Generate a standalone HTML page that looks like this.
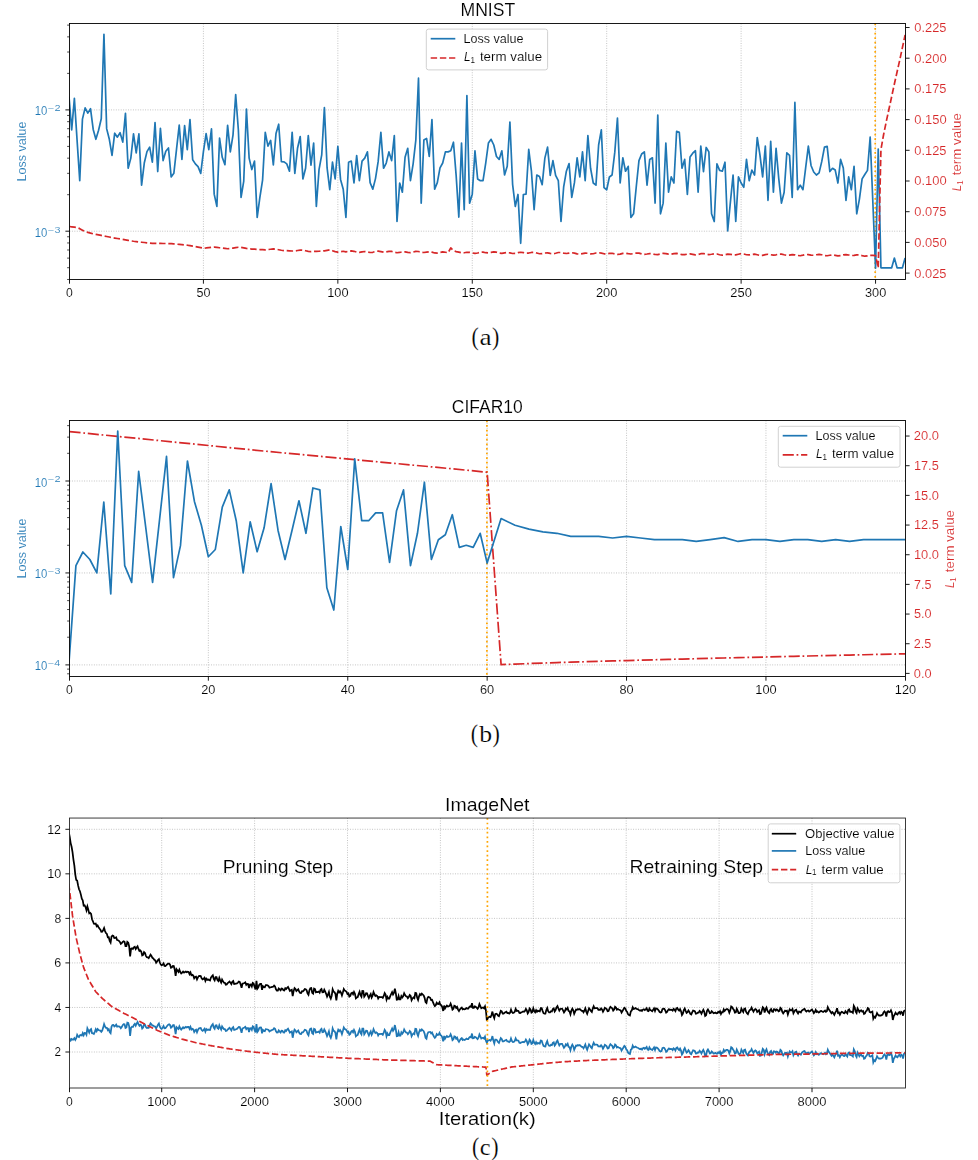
<!DOCTYPE html>
<html><head><meta charset="utf-8"><title>Loss curves</title>
<style>html,body{margin:0;padding:0;background:#fff}body{width:978px;height:1160px;overflow:hidden;font-family:"Liberation Sans",sans-serif}</style></head>
<body>
<svg width="978" height="1160" viewBox="0 0 978 1160" style="display:block">
<rect width="978" height="1160" fill="#fff"/>
<defs>
<clipPath id="c1"><rect x="69.5" y="23.5" width="836" height="256"/></clipPath>
<clipPath id="c2"><rect x="69.5" y="420.5" width="836" height="256"/></clipPath>
<clipPath id="c3"><rect x="69.5" y="818.05" width="836" height="269.95"/></clipPath>
</defs>
<line x1="203.42" y1="23.5" x2="203.42" y2="279.5" stroke="#b9b9b9" stroke-width="0.9" stroke-dasharray="0.92 1.52"/>
<line x1="337.85" y1="23.5" x2="337.85" y2="279.5" stroke="#b9b9b9" stroke-width="0.9" stroke-dasharray="0.92 1.52"/>
<line x1="472.27" y1="23.5" x2="472.27" y2="279.5" stroke="#b9b9b9" stroke-width="0.9" stroke-dasharray="0.92 1.52"/>
<line x1="606.7" y1="23.5" x2="606.7" y2="279.5" stroke="#b9b9b9" stroke-width="0.9" stroke-dasharray="0.92 1.52"/>
<line x1="741.12" y1="23.5" x2="741.12" y2="279.5" stroke="#b9b9b9" stroke-width="0.9" stroke-dasharray="0.92 1.52"/>
<line x1="875.55" y1="23.5" x2="875.55" y2="279.5" stroke="#b9b9b9" stroke-width="0.9" stroke-dasharray="0.92 1.52"/>
<line x1="69.5" y1="109.9" x2="905.5" y2="109.9" stroke="#b9b9b9" stroke-width="0.9" stroke-dasharray="0.92 1.52"/>
<line x1="69.5" y1="231.2" x2="905.5" y2="231.2" stroke="#b9b9b9" stroke-width="0.9" stroke-dasharray="0.92 1.52"/>
<line x1="875.2" y1="23.5" x2="875.2" y2="279.5" stroke="#ffa500" stroke-width="1.7" stroke-dasharray="1.73 2.86"/>
<path d="M69,96.69 L71.69,129.94 L74.38,98.33 L77.07,140.1 L79.75,180.72 L82.44,119.13 L85.13,107.83 L87.82,113.07 L90.51,108.65 L93.2,129.45 L95.88,139.28 L98.57,130.27 L101.26,118.81 L103.95,34.29 L106.64,128.63 L109.33,139.28 L112.02,155.33 L114.7,133.22 L117.39,137.15 L120.08,132.73 L122.77,142.07 L125.46,113.4 L128.15,168.27 L130.84,158.12 L133.52,133.88 L136.21,152.88 L138.9,133.88 L141.59,185.15 L144.28,163.03 L146.97,151.57 L149.66,147.14 L152.34,162.21 L155.03,122.57 L157.72,171.55 L160.41,128.31 L163.1,160.58 L165.79,151.24 L168.47,147.96 L171.16,176.96 L173.85,173.35 L176.54,149.11 L179.23,125.03 L181.92,159.43 L184.61,125.69 L187.29,149.6 L189.98,119.63 L192.67,159.76 L195.36,163.85 L198.05,166.64 L200.74,173.35 L203.42,151.57 L206.11,133.55 L208.8,149.6 L211.49,128.96 L214.18,194.15 L216.87,206.44 L219.56,138.13 L222.24,157.3 L224.93,164.67 L227.62,125.36 L230.31,151.89 L233,135.19 L235.69,94.56 L238.38,130.27 L241.06,197.43 L243.75,181.05 L246.44,108.98 L249.13,158.12 L251.82,169.58 L254.51,161.07 L257.19,217.41 L259.88,197.43 L262.57,180.23 L265.26,132.4 L267.95,146.16 L270.64,140.43 L273.33,165 L276.01,133.55 L278.7,124.21 L281.39,161.72 L284.08,161.89 L286.77,163.85 L289.46,171.22 L292.15,132.4 L294.83,173.35 L297.52,148.29 L300.21,136.5 L302.9,178.92 L305.59,168.27 L308.28,135.51 L310.97,165.16 L313.65,143.05 L316.34,206.44 L319.03,169.58 L321.72,154.84 L324.41,107.67 L327.1,167.95 L329.78,189.73 L332.47,162.21 L335.16,178.92 L337.85,146.32 L340.54,179.41 L343.23,189.24 L345.92,217.41 L348.6,162.21 L351.29,161.07 L353.98,183.02 L356.67,155.66 L359.36,180.72 L362.05,161.07 L364.74,158.12 L367.42,151.89 L370.11,182.69 L372.8,189.24 L375.49,178.59 L378.18,161.39 L380.87,132.4 L383.55,168.27 L386.24,163.03 L388.93,151.89 L391.62,160.58 L394.31,135.51 L397,221.51 L399.69,183.02 L402.37,192.19 L405.06,157.3 L407.75,148.29 L410.44,180.72 L413.13,163.85 L415.82,140.1 L418.5,78.18 L421.19,203.16 L423.88,140.1 L426.57,138.46 L429.26,156.48 L431.95,119.63 L434.64,189.24 L437.32,182.69 L440.01,167.95 L442.7,163.03 L445.39,151.89 L448.08,151.89 L450.77,150.75 L453.46,142.23 L456.14,175.32 L458.83,217.09 L461.52,143.05 L464.21,209.72 L466.9,95.55 L469.59,203.16 L472.27,194.15 L474.96,150.75 L477.65,179.08 L480.34,180.72 L483.03,180.72 L485.72,163.03 L488.41,143.05 L491.09,139.28 L493.78,145.01 L496.47,156.48 L499.16,159.43 L501.85,150.75 L504.54,174.99 L507.23,166.31 L509.91,122.08 L512.6,184.33 L515.29,206.44 L517.98,194.48 L520.67,243.29 L523.36,194.48 L526.04,194.15 L528.73,149.44 L531.42,171.22 L534.11,209.72 L536.8,174.99 L539.49,176.46 L542.18,184.65 L544.86,158.12 L547.55,147.14 L550.24,175.32 L552.93,160.58 L555.62,175.32 L558.31,180.72 L561,221.51 L563.68,186.78 L566.37,171.22 L569.06,163.52 L571.75,197.43 L574.44,182.69 L577.13,157.79 L579.82,176.96 L582.5,151.89 L585.19,180.72 L587.88,135.51 L590.57,168.27 L593.26,183.02 L595.95,185.15 L598.63,145.01 L601.32,129.78 L604.01,187.6 L606.7,189.73 L609.39,176.96 L612.08,174.99 L614.77,152.39 L617.45,117.99 L620.14,183.02 L622.83,157.79 L625.52,171.22 L628.21,166.31 L630.9,217.41 L633.58,213.81 L636.27,186.78 L638.96,160.58 L641.65,154.02 L644.34,151.89 L647.03,185.15 L649.72,159.43 L652.4,157.79 L655.09,203.16 L657.78,115.04 L660.47,213.81 L663.16,203.16 L665.85,143.05 L668.54,192.19 L671.22,176.96 L673.91,183.02 L676.6,131.42 L679.29,132.4 L681.98,168.27 L684.67,159.43 L687.36,194.48 L690.04,156.97 L692.73,153.2 L695.42,150.75 L698.11,192.19 L700.8,146.16 L703.49,171.55 L706.17,147.47 L708.86,151.89 L711.55,213.81 L714.24,221.51 L716.93,163.85 L719.62,170.4 L722.31,171.22 L724.99,162.21 L727.68,231.01 L730.37,202.34 L733.06,174.99 L735.75,221.51 L738.44,176.96 L741.12,183.02 L743.81,187.27 L746.5,159.43 L749.19,180.72 L751.88,170.08 L754.57,174.99 L757.26,137.64 L759.94,154.84 L762.63,176.96 L765.32,146.16 L768.01,200.38 L770.7,141.25 L773.39,192.19 L776.08,148.29 L778.76,178.59 L781.45,203.16 L784.14,192.19 L786.83,152.88 L789.52,155.33 L792.21,197.43 L794.89,102.43 L797.58,189.73 L800.27,185.15 L802.96,189.73 L805.65,167.95 L808.34,146.16 L811.03,165.49 L813.71,172.04 L816.4,174.99 L819.09,172.86 L821.78,161.39 L824.47,147.14 L827.16,146.32 L829.85,171.55 L832.53,168.27 L835.22,170.08 L837.91,183.02 L840.6,159.43 L843.29,167.95 L845.98,200.38 L848.66,176.96 L851.35,189.73 L854.04,166.31 L856.73,213.81 L859.42,199.07 L862.11,178.92 L864.8,174.5 L867.48,170.4 L870.17,137.1 L872.86,202.5 L875.55,268.2 L878.24,149.1 L880.93,267.8 L883.62,267.8 L886.3,267.8 L888.99,267.8 L891.68,267.8 L894.37,258 L897.06,267.8 L899.75,267.8 L902.43,267.8 L905.12,258" fill="none" stroke="#1f77b4" stroke-width="1.7" stroke-linejoin="round" clip-path="url(#c1)"/>
<path d="M69.5,226.53 L71.69,226.81 L74.38,227.15 L77.07,227.49 L79.75,228.64 L82.44,230.16 L85.13,231.64 L87.82,232.35 L90.51,233.07 L93.2,233.79 L95.88,234.35 L98.57,234.89 L101.26,235.42 L103.95,235.96 L106.64,236.49 L109.33,237.03 L112.02,237.56 L114.7,238.07 L117.39,238.53 L120.08,238.98 L122.77,239.44 L125.46,239.9 L128.15,240.36 L130.84,240.81 L133.52,241.27 L136.21,241.59 L138.9,241.9 L141.59,242.22 L144.28,242.53 L146.97,242.84 L149.66,243.16 L152.34,243.32 L155.03,243.36 L157.72,243.4 L160.41,243.44 L163.1,243.48 L165.79,243.52 L168.47,243.56 L171.16,243.63 L173.85,243.89 L176.54,244.16 L179.23,244.42 L181.92,244.69 L184.61,244.95 L187.29,245.22 L189.98,245.65 L192.67,246.14 L195.36,246.64 L198.05,247.14 L200.74,247.63 L203.42,248.13 L206.11,247.95 L208.8,247.66 L211.49,247.36 L214.18,247.13 L216.87,247.45 L219.56,247.77 L222.24,248.09 L224.93,248.41 L227.62,248.73 L230.31,248.49 L233,248.08 L235.69,247.68 L238.38,247.28 L241.06,247.39 L243.75,247.92 L246.44,248.45 L249.13,248.86 L251.82,249.03 L254.51,249.2 L257.19,249.38 L259.88,249.55 L262.57,249.72 L265.26,249.89 L267.95,249.57 L270.64,249.23 L273.33,248.89 L276.01,249.2 L278.7,249.73 L281.39,250.26 L284.08,250.58 L286.77,250.72 L289.46,250.86 L292.15,251 L294.83,250.96 L297.52,250.51 L300.21,250.06 L302.9,250.24 L305.59,250.77 L308.28,251.3 L310.97,251.55 L313.65,251.45 L316.34,251.35 L319.03,251.24 L321.72,251.14 L324.41,250.81 L327.1,250.36 L329.78,249.9 L332.47,250.75 L335.16,251.61 L337.85,252.07 L340.54,251.65 L343.23,251.24 L345.92,251.84 L348.6,251.28 L351.29,250.87 L353.98,251.31 L356.67,252.12 L359.36,252.31 L362.05,251.8 L364.74,251.5 L367.42,251.94 L370.11,252.49 L372.8,252.28 L375.49,251.49 L378.18,251.14 L380.87,251.6 L383.55,252.12 L386.24,251.93 L388.93,251.38 L391.62,251.42 L394.31,252.18 L397,252.75 L399.69,252.47 L402.37,251.87 L405.06,251.87 L407.75,252.44 L410.44,252.63 L413.13,252.03 L415.82,251.37 L418.5,251.52 L421.19,252.22 L423.88,252.48 L426.57,252.05 L429.26,251.73 L431.95,252.19 L434.64,252.95 L437.32,253.04 L440.01,252.4 L442.7,251.96 L445.39,252.28 L448.08,252.76 L450.77,247.9 L453.46,250.6 L456.14,251.6 L458.83,252.2 L461.52,252.85 L464.21,252.76 L466.9,252.25 L469.59,252.28 L472.27,252.96 L474.96,253.4 L477.65,252.97 L480.34,252.25 L483.03,252.17 L485.72,252.71 L488.41,252.94 L491.09,252.44 L493.78,251.92 L496.47,252.2 L499.16,253.02 L501.85,253.35 L504.54,252.92 L507.23,252.54 L509.91,252.89 L512.6,253.51 L515.29,253.46 L517.98,252.71 L520.67,252.23 L523.36,252.57 L526.04,253.13 L528.73,253.04 L531.42,252.47 L534.11,252.36 L536.8,253.05 L539.49,253.73 L542.18,253.6 L544.86,252.99 L547.55,252.89 L550.24,253.43 L552.93,253.75 L555.62,253.25 L558.31,252.52 L561,252.5 L563.68,253.15 L566.37,253.52 L569.06,253.15 L571.75,252.74 L574.44,253.08 L577.13,253.88 L579.82,254.13 L582.5,253.58 L585.19,253.06 L587.88,253.28 L590.57,253.81 L593.26,253.73 L595.95,253.02 L598.63,252.62 L601.32,253.1 L604.01,253.8 L606.7,253.83 L609.39,253.33 L612.08,253.23 L614.77,253.87 L617.45,254.44 L620.14,254.17 L622.83,253.43 L625.52,253.21 L628.21,253.7 L630.9,254.03 L633.58,253.61 L636.27,253 L638.96,253.12 L641.65,253.9 L644.34,254.36 L647.03,254.03 L649.72,253.58 L652.4,253.83 L655.09,254.5 L657.78,254.62 L660.47,253.94 L663.16,253.34 L665.85,253.55 L668.54,254.13 L671.22,254.16 L673.91,253.58 L676.6,253.33 L679.29,253.91 L681.98,254.67 L684.67,254.7 L687.36,254.12 L690.04,253.91 L692.73,254.4 L695.42,254.84 L698.11,254.47 L700.8,253.7 L703.49,253.51 L706.17,254.08 L708.86,254.55 L711.55,254.26 L714.24,253.77 L716.93,253.97 L719.62,254.77 L722.31,255.19 L724.99,254.75 L727.68,254.17 L730.37,254.28 L733.06,254.84 L735.75,254.89 L738.44,254.22 L741.12,253.69 L743.81,254.01 L746.5,254.74 L749.19,254.89 L751.88,254.42 L754.57,254.2 L757.26,254.76 L759.94,255.44 L762.63,255.34 L765.32,254.62 L768.01,254.28 L770.7,254.69 L773.39,255.11 L776.08,254.79 L778.76,254.11 L781.45,254.06 L784.14,254.78 L786.83,255.35 L789.52,255.13 L792.21,254.64 L794.89,254.78 L797.58,255.46 L800.27,255.74 L802.96,255.17 L805.65,254.49 L808.34,254.55 L811.03,255.13 L813.71,255.26 L816.4,254.72 L819.09,254.33 L821.78,254.78 L824.47,255.59 L827.16,255.77 L829.85,255.25 L832.53,254.94 L835.22,255.37 L837.91,255.9 L840.6,255.68 L843.29,254.9 L845.98,254.56 L848.66,255.03 L851.35,255.56 L854.04,255.37 L856.73,254.83 L859.42,254.89 L862.11,255.65 L864.8,256.21 L867.48,255.91 L870.17,255.3 L872.86,255.29 L875.55,255.6 L878.24,267.8 L880.93,149.6 L883.62,134.5 L886.3,121.5 L888.99,109 L891.68,96.5 L894.37,84 L897.06,72 L899.75,60 L902.43,47.5 L905.12,35" fill="none" stroke="#d62728" stroke-width="1.7" stroke-linejoin="round" stroke-dasharray="6.41 2.77" clip-path="url(#c1)"/>
<rect x="69.5" y="23.5" width="836" height="256" fill="none" stroke="#000" stroke-width="0.9"/>
<line x1="69.5" y1="279.5" x2="69.5" y2="283.7" stroke="#000" stroke-width="0.9"/>
<line x1="203.42" y1="279.5" x2="203.42" y2="283.7" stroke="#000" stroke-width="0.9"/>
<line x1="337.85" y1="279.5" x2="337.85" y2="283.7" stroke="#000" stroke-width="0.9"/>
<line x1="472.27" y1="279.5" x2="472.27" y2="283.7" stroke="#000" stroke-width="0.9"/>
<line x1="606.7" y1="279.5" x2="606.7" y2="283.7" stroke="#000" stroke-width="0.9"/>
<line x1="741.12" y1="279.5" x2="741.12" y2="283.7" stroke="#000" stroke-width="0.9"/>
<line x1="875.55" y1="279.5" x2="875.55" y2="283.7" stroke="#000" stroke-width="0.9"/>
<line x1="65.4" y1="109.9" x2="69.5" y2="109.9" stroke="#000" stroke-width="0.9"/>
<line x1="65.4" y1="231.2" x2="69.5" y2="231.2" stroke="#000" stroke-width="0.9"/>
<line x1="67.1" y1="279.47" x2="69.5" y2="279.47" stroke="#000" stroke-width="0.7"/>
<line x1="67.1" y1="267.71" x2="69.5" y2="267.71" stroke="#000" stroke-width="0.7"/>
<line x1="67.1" y1="258.11" x2="69.5" y2="258.11" stroke="#000" stroke-width="0.7"/>
<line x1="67.1" y1="249.99" x2="69.5" y2="249.99" stroke="#000" stroke-width="0.7"/>
<line x1="67.1" y1="242.96" x2="69.5" y2="242.96" stroke="#000" stroke-width="0.7"/>
<line x1="67.1" y1="236.75" x2="69.5" y2="236.75" stroke="#000" stroke-width="0.7"/>
<line x1="67.1" y1="194.69" x2="69.5" y2="194.69" stroke="#000" stroke-width="0.7"/>
<line x1="67.1" y1="173.33" x2="69.5" y2="173.33" stroke="#000" stroke-width="0.7"/>
<line x1="67.1" y1="158.17" x2="69.5" y2="158.17" stroke="#000" stroke-width="0.7"/>
<line x1="67.1" y1="146.41" x2="69.5" y2="146.41" stroke="#000" stroke-width="0.7"/>
<line x1="67.1" y1="136.81" x2="69.5" y2="136.81" stroke="#000" stroke-width="0.7"/>
<line x1="67.1" y1="128.69" x2="69.5" y2="128.69" stroke="#000" stroke-width="0.7"/>
<line x1="67.1" y1="121.66" x2="69.5" y2="121.66" stroke="#000" stroke-width="0.7"/>
<line x1="67.1" y1="115.45" x2="69.5" y2="115.45" stroke="#000" stroke-width="0.7"/>
<line x1="67.1" y1="73.39" x2="69.5" y2="73.39" stroke="#000" stroke-width="0.7"/>
<line x1="67.1" y1="52.03" x2="69.5" y2="52.03" stroke="#000" stroke-width="0.7"/>
<line x1="67.1" y1="36.87" x2="69.5" y2="36.87" stroke="#000" stroke-width="0.7"/>
<line x1="67.1" y1="25.11" x2="69.5" y2="25.11" stroke="#000" stroke-width="0.7"/>
<line x1="905.5" y1="273.1" x2="909.6" y2="273.1" stroke="#000" stroke-width="0.9"/>
<line x1="905.5" y1="242.4" x2="909.6" y2="242.4" stroke="#000" stroke-width="0.9"/>
<line x1="905.5" y1="211.7" x2="909.6" y2="211.7" stroke="#000" stroke-width="0.9"/>
<line x1="905.5" y1="181" x2="909.6" y2="181" stroke="#000" stroke-width="0.9"/>
<line x1="905.5" y1="150.3" x2="909.6" y2="150.3" stroke="#000" stroke-width="0.9"/>
<line x1="905.5" y1="119.6" x2="909.6" y2="119.6" stroke="#000" stroke-width="0.9"/>
<line x1="905.5" y1="88.9" x2="909.6" y2="88.9" stroke="#000" stroke-width="0.9"/>
<line x1="905.5" y1="58.2" x2="909.6" y2="58.2" stroke="#000" stroke-width="0.9"/>
<line x1="905.5" y1="27.5" x2="909.6" y2="27.5" stroke="#000" stroke-width="0.9"/>
<rect x="426.3" y="29.1" width="121.3" height="40.8" rx="2.3" ry="2.3" fill="#fff" fill-opacity="0.8" stroke="#cccccc" stroke-width="0.9"/>
<line x1="430.7" y1="38.7" x2="455.3" y2="38.7" stroke="#1f77b4" stroke-width="1.7"/>
<line x1="430.7" y1="58" x2="455.3" y2="58" stroke="#d62728" stroke-width="1.7" stroke-dasharray="6.41 2.77"/>
<text transform="translate(471.54,345.1) scale(0.8315,1)" font-family="Liberation Serif, serif" font-size="26.23" fill="#000" stroke="#fff" stroke-width="0.18">(</text>
<text transform="translate(479.41,344.97) scale(1.1954,1)" font-family="Liberation Serif, serif" font-size="22.9" fill="#000" stroke="#fff" stroke-width="0.18">a</text>
<text transform="translate(491.96,345.1) scale(0.8404,1)" font-family="Liberation Serif, serif" font-size="26.23" fill="#000" stroke="#fff" stroke-width="0.18">)</text>
<line x1="208.35" y1="420.5" x2="208.35" y2="676.5" stroke="#b9b9b9" stroke-width="0.9" stroke-dasharray="0.92 1.52"/>
<line x1="347.75" y1="420.5" x2="347.75" y2="676.5" stroke="#b9b9b9" stroke-width="0.9" stroke-dasharray="0.92 1.52"/>
<line x1="487.15" y1="420.5" x2="487.15" y2="676.5" stroke="#b9b9b9" stroke-width="0.9" stroke-dasharray="0.92 1.52"/>
<line x1="626.55" y1="420.5" x2="626.55" y2="676.5" stroke="#b9b9b9" stroke-width="0.9" stroke-dasharray="0.92 1.52"/>
<line x1="765.95" y1="420.5" x2="765.95" y2="676.5" stroke="#b9b9b9" stroke-width="0.9" stroke-dasharray="0.92 1.52"/>
<line x1="69.5" y1="481" x2="905.5" y2="481" stroke="#b9b9b9" stroke-width="0.9" stroke-dasharray="0.92 1.52"/>
<line x1="69.5" y1="572.95" x2="905.5" y2="572.95" stroke="#b9b9b9" stroke-width="0.9" stroke-dasharray="0.92 1.52"/>
<line x1="69.5" y1="664.9" x2="905.5" y2="664.9" stroke="#b9b9b9" stroke-width="0.9" stroke-dasharray="0.92 1.52"/>
<line x1="486.9" y1="420.5" x2="486.9" y2="676.5" stroke="#ffa500" stroke-width="1.7" stroke-dasharray="1.73 2.86"/>
<path d="M69.5,431.6 L265.4,451.2 L464.8,470 L487.15,472.3 L501.09,664.6 L515.03,664.11 L528.97,663.56 L542.91,663.06 L556.85,662.59 L570.79,662.15 L584.73,661.73 L598.67,661.31 L612.61,660.92 L626.55,660.53 L640.49,660.15 L654.43,659.77 L668.37,659.41 L682.31,659.05 L696.25,658.69 L710.19,658.34 L724.13,658 L738.07,657.66 L752.01,657.32 L765.95,656.99 L779.89,656.66 L793.83,656.33 L807.77,656.01 L821.71,655.69 L835.65,655.37 L849.59,655.05 L863.53,654.74 L877.47,654.43 L891.41,654.12 L905.5,653.82" fill="none" stroke="#d62728" stroke-width="1.7" stroke-linejoin="miter" stroke-dasharray="11.1 2.77 1.73 2.77" clip-path="url(#c2)"/>
<path d="M68.95,662.95 L75.92,565.67 L82.89,552 L89.86,559.51 L96.83,572.95 L103.8,502.07 L110.77,594.02 L117.74,431.09 L124.71,565.67 L131.68,582.36 L138.65,471.46 L145.62,526.5 L152.59,582.36 L159.56,519.64 L166.53,456.43 L173.5,577.6 L180.47,545.67 L187.44,461 L194.41,501.4 L201.38,525.27 L208.35,556.76 L215.32,549.48 L222.29,507.11 L229.26,489.91 L236.23,520.7 L243.2,572.95 L250.17,521.8 L257.14,551.76 L264.11,527.77 L271.08,483.68 L278.05,530.43 L285.02,559.51 L291.99,530.43 L298.96,500.74 L305.93,533.29 L312.9,487.96 L319.87,489.91 L326.84,587.77 L333.81,610.04 L340.78,526.5 L347.75,569.51 L354.72,458.88 L361.69,520.7 L368.66,520.7 L375.63,512.89 L382.6,512.89 L389.57,562.47 L396.54,510.73 L403.51,489.91 L410.48,565.67 L417.45,533.29 L424.42,482.22 L431.39,559.51 L438.36,539.69 L445.33,534.79 L452.3,514.7 L459.27,547.32 L466.24,545.27 L473.21,547.32 L480.18,533.29 L487.15,563.09 L501.09,518.6 L515.03,525.27 L528.97,529.08 L542.91,531.83 L556.85,533.29 L570.79,536.36 L584.73,536.36 L598.67,536.36 L612.61,537.99 L626.55,536.36 L640.49,537.99 L654.43,539.69 L668.37,539.69 L682.31,539.69 L696.25,541.46 L710.19,539.69 L724.13,537.66 L738.07,541.46 L752.01,539.69 L765.95,539.69 L779.89,541.46 L793.83,539.69 L807.77,539.69 L821.71,541.46 L835.65,539.69 L849.59,541.46 L863.53,539.69 L877.47,539.69 L891.41,539.69 L905.35,539.69" fill="none" stroke="#1f77b4" stroke-width="1.7" stroke-linejoin="round" clip-path="url(#c2)"/>
<rect x="69.5" y="420.5" width="836" height="256" fill="none" stroke="#000" stroke-width="0.9"/>
<line x1="69.5" y1="676.5" x2="69.5" y2="680.7" stroke="#000" stroke-width="0.9"/>
<line x1="208.35" y1="676.5" x2="208.35" y2="680.7" stroke="#000" stroke-width="0.9"/>
<line x1="347.75" y1="676.5" x2="347.75" y2="680.7" stroke="#000" stroke-width="0.9"/>
<line x1="487.15" y1="676.5" x2="487.15" y2="680.7" stroke="#000" stroke-width="0.9"/>
<line x1="626.55" y1="676.5" x2="626.55" y2="680.7" stroke="#000" stroke-width="0.9"/>
<line x1="765.95" y1="676.5" x2="765.95" y2="680.7" stroke="#000" stroke-width="0.9"/>
<line x1="905.5" y1="676.5" x2="905.5" y2="680.7" stroke="#000" stroke-width="0.9"/>
<line x1="65.4" y1="481" x2="69.5" y2="481" stroke="#000" stroke-width="0.9"/>
<line x1="65.4" y1="572.95" x2="69.5" y2="572.95" stroke="#000" stroke-width="0.9"/>
<line x1="65.4" y1="664.9" x2="69.5" y2="664.9" stroke="#000" stroke-width="0.9"/>
<line x1="67.1" y1="673.81" x2="69.5" y2="673.81" stroke="#000" stroke-width="0.7"/>
<line x1="67.1" y1="669.11" x2="69.5" y2="669.11" stroke="#000" stroke-width="0.7"/>
<line x1="67.1" y1="637.22" x2="69.5" y2="637.22" stroke="#000" stroke-width="0.7"/>
<line x1="67.1" y1="621.03" x2="69.5" y2="621.03" stroke="#000" stroke-width="0.7"/>
<line x1="67.1" y1="609.54" x2="69.5" y2="609.54" stroke="#000" stroke-width="0.7"/>
<line x1="67.1" y1="600.63" x2="69.5" y2="600.63" stroke="#000" stroke-width="0.7"/>
<line x1="67.1" y1="593.35" x2="69.5" y2="593.35" stroke="#000" stroke-width="0.7"/>
<line x1="67.1" y1="587.19" x2="69.5" y2="587.19" stroke="#000" stroke-width="0.7"/>
<line x1="67.1" y1="581.86" x2="69.5" y2="581.86" stroke="#000" stroke-width="0.7"/>
<line x1="67.1" y1="577.16" x2="69.5" y2="577.16" stroke="#000" stroke-width="0.7"/>
<line x1="67.1" y1="545.27" x2="69.5" y2="545.27" stroke="#000" stroke-width="0.7"/>
<line x1="67.1" y1="529.08" x2="69.5" y2="529.08" stroke="#000" stroke-width="0.7"/>
<line x1="67.1" y1="517.59" x2="69.5" y2="517.59" stroke="#000" stroke-width="0.7"/>
<line x1="67.1" y1="508.68" x2="69.5" y2="508.68" stroke="#000" stroke-width="0.7"/>
<line x1="67.1" y1="501.4" x2="69.5" y2="501.4" stroke="#000" stroke-width="0.7"/>
<line x1="67.1" y1="495.24" x2="69.5" y2="495.24" stroke="#000" stroke-width="0.7"/>
<line x1="67.1" y1="489.91" x2="69.5" y2="489.91" stroke="#000" stroke-width="0.7"/>
<line x1="67.1" y1="485.21" x2="69.5" y2="485.21" stroke="#000" stroke-width="0.7"/>
<line x1="67.1" y1="453.32" x2="69.5" y2="453.32" stroke="#000" stroke-width="0.7"/>
<line x1="67.1" y1="437.13" x2="69.5" y2="437.13" stroke="#000" stroke-width="0.7"/>
<line x1="67.1" y1="425.64" x2="69.5" y2="425.64" stroke="#000" stroke-width="0.7"/>
<line x1="905.5" y1="673.4" x2="909.6" y2="673.4" stroke="#000" stroke-width="0.9"/>
<line x1="905.5" y1="643.73" x2="909.6" y2="643.73" stroke="#000" stroke-width="0.9"/>
<line x1="905.5" y1="614.06" x2="909.6" y2="614.06" stroke="#000" stroke-width="0.9"/>
<line x1="905.5" y1="584.39" x2="909.6" y2="584.39" stroke="#000" stroke-width="0.9"/>
<line x1="905.5" y1="554.72" x2="909.6" y2="554.72" stroke="#000" stroke-width="0.9"/>
<line x1="905.5" y1="525.05" x2="909.6" y2="525.05" stroke="#000" stroke-width="0.9"/>
<line x1="905.5" y1="495.38" x2="909.6" y2="495.38" stroke="#000" stroke-width="0.9"/>
<line x1="905.5" y1="465.71" x2="909.6" y2="465.71" stroke="#000" stroke-width="0.9"/>
<line x1="905.5" y1="436.04" x2="909.6" y2="436.04" stroke="#000" stroke-width="0.9"/>
<rect x="778.3" y="426.3" width="121.7" height="40.9" rx="2.3" ry="2.3" fill="#fff" fill-opacity="0.8" stroke="#cccccc" stroke-width="0.9"/>
<line x1="782.7" y1="435.7" x2="807.3" y2="435.7" stroke="#1f77b4" stroke-width="1.7"/>
<line x1="782.7" y1="454.8" x2="807.3" y2="454.8" stroke="#d62728" stroke-width="1.7" stroke-dasharray="11.1 2.77 1.73 2.77"/>
<text transform="translate(470.68,742.1) scale(0.8315,1)" font-family="Liberation Serif, serif" font-size="26.23" fill="#000" stroke="#fff" stroke-width="0.18">(</text>
<text transform="translate(479.15,741.96) scale(1.0719,1)" font-family="Liberation Serif, serif" font-size="23.98" fill="#000" stroke="#fff" stroke-width="0.18">b</text>
<text transform="translate(492.42,742.1) scale(0.8404,1)" font-family="Liberation Serif, serif" font-size="26.23" fill="#000" stroke="#fff" stroke-width="0.18">)</text>
<line x1="161.7" y1="818.05" x2="161.7" y2="1088" stroke="#b9b9b9" stroke-width="0.9" stroke-dasharray="0.92 1.52"/>
<line x1="254.6" y1="818.05" x2="254.6" y2="1088" stroke="#b9b9b9" stroke-width="0.9" stroke-dasharray="0.92 1.52"/>
<line x1="347.5" y1="818.05" x2="347.5" y2="1088" stroke="#b9b9b9" stroke-width="0.9" stroke-dasharray="0.92 1.52"/>
<line x1="440.4" y1="818.05" x2="440.4" y2="1088" stroke="#b9b9b9" stroke-width="0.9" stroke-dasharray="0.92 1.52"/>
<line x1="533.3" y1="818.05" x2="533.3" y2="1088" stroke="#b9b9b9" stroke-width="0.9" stroke-dasharray="0.92 1.52"/>
<line x1="626.2" y1="818.05" x2="626.2" y2="1088" stroke="#b9b9b9" stroke-width="0.9" stroke-dasharray="0.92 1.52"/>
<line x1="719.1" y1="818.05" x2="719.1" y2="1088" stroke="#b9b9b9" stroke-width="0.9" stroke-dasharray="0.92 1.52"/>
<line x1="812" y1="818.05" x2="812" y2="1088" stroke="#b9b9b9" stroke-width="0.9" stroke-dasharray="0.92 1.52"/>
<line x1="69.5" y1="1052" x2="905.5" y2="1052" stroke="#b9b9b9" stroke-width="0.9" stroke-dasharray="0.92 1.52"/>
<line x1="69.5" y1="1007.46" x2="905.5" y2="1007.46" stroke="#b9b9b9" stroke-width="0.9" stroke-dasharray="0.92 1.52"/>
<line x1="69.5" y1="962.92" x2="905.5" y2="962.92" stroke="#b9b9b9" stroke-width="0.9" stroke-dasharray="0.92 1.52"/>
<line x1="69.5" y1="918.38" x2="905.5" y2="918.38" stroke="#b9b9b9" stroke-width="0.9" stroke-dasharray="0.92 1.52"/>
<line x1="69.5" y1="873.84" x2="905.5" y2="873.84" stroke="#b9b9b9" stroke-width="0.9" stroke-dasharray="0.92 1.52"/>
<line x1="69.5" y1="829.3" x2="905.5" y2="829.3" stroke="#b9b9b9" stroke-width="0.9" stroke-dasharray="0.92 1.52"/>
<path d="M68.8,832.13 L69.73,836.8 L70.66,843.12 L71.59,846.76 L72.52,852.2 L73.44,859.59 L74.37,865.72 L75.3,874.56 L76.23,880.05 L77.16,880.61 L78.09,885.42 L79.02,889.3 L79.95,891.19 L80.88,894.63 L81.81,898.76 L82.73,900.36 L83.66,905.67 L84.59,905.4 L85.52,907.11 L86.45,910.27 L87.38,906.49 L88.31,909.84 L89.24,913.42 L90.17,912.84 L91.1,913.93 L92.02,919.26 L92.95,921.28 L93.88,923.81 L94.81,923.91 L95.74,923.56 L96.67,926.31 L97.6,925.49 L98.53,927.21 L99.46,928.55 L100.39,929.75 L101.31,931.78 L102.24,931.63 L103.17,930.13 L104.1,928.07 L105.03,931.07 L105.96,933.06 L106.89,933.97 L107.82,937.25 L108.75,937.22 L109.68,940.93 L110.6,942.56 L111.53,936.57 L112.46,935.52 L113.39,935.98 L114.32,938.15 L115.25,938.03 L116.18,937.39 L117.11,939.97 L118.04,940.27 L118.97,940.88 L119.89,941.9 L120.82,943.84 L121.75,943.14 L122.68,941.78 L123.61,941.22 L124.54,941.88 L125.47,946.06 L126.4,946.03 L127.33,941.84 L128.26,942.63 L129.19,946.43 L130.11,956.45 L131.04,948.78 L131.97,948.23 L132.9,948.96 L133.83,947.28 L134.76,946.73 L135.69,949.03 L136.62,947.45 L137.55,946.27 L138.47,948.92 L139.4,950.97 L140.33,950.38 L141.26,951.62 L142.19,955.35 L143.12,954.88 L144.05,952.13 L144.98,953.01 L145.91,955.87 L146.84,957.23 L147.76,957.4 L148.69,958.12 L149.62,956.36 L150.55,954.67 L151.48,956.05 L152.41,957.86 L153.34,958.45 L154.27,959.74 L155.2,960.37 L156.13,962.7 L157.06,961.43 L157.98,959.94 L158.91,959.05 L159.84,962.57 L160.77,964.51 L161.7,965.43 L162.63,964.64 L163.56,963.34 L164.49,965.88 L165.42,966.03 L166.34,965.2 L167.27,964.3 L168.2,963.66 L169.13,963.56 L170.06,964.7 L170.99,967.68 L171.92,967.2 L172.85,966 L173.78,966.14 L174.71,969.47 L175.63,975.94 L176.56,969.32 L177.49,970.56 L178.42,971.87 L179.35,969.62 L180.28,972.04 L181.21,973.49 L182.14,972.59 L183.07,971.55 L184,972.62 L184.93,971.99 L185.85,971.47 L186.78,972.18 L187.71,971.76 L188.64,972.04 L189.57,974.2 L190.5,972.43 L191.43,975.25 L192.36,974.72 L193.29,975.6 L194.21,978.33 L195.14,977.06 L196.07,976.62 L197,979.36 L197.93,977.36 L198.86,976.06 L199.79,975.92 L200.72,976.08 L201.65,978.3 L202.58,979.39 L203.5,978.83 L204.43,977.81 L205.36,980.9 L206.29,978.6 L207.22,979.69 L208.15,979.52 L209.08,980.04 L210.01,980.49 L210.94,977.58 L211.87,976.22 L212.8,975.24 L213.72,978.83 L214.65,980.31 L215.58,977.14 L216.51,977.15 L217.44,980.1 L218.37,981.1 L219.3,977.9 L220.23,980.57 L221.16,982.58 L222.08,979.6 L223.01,981.35 L223.94,982.7 L224.87,982.79 L225.8,984.62 L226.73,984.39 L227.66,983.22 L228.59,982.39 L229.52,981.53 L230.45,982.67 L231.38,984.11 L232.3,981.82 L233.23,981.04 L234.16,983.98 L235.09,983.93 L236.02,983.54 L236.95,983.41 L237.88,982.53 L238.81,981.59 L239.74,981.91 L240.66,984.43 L241.59,987.8 L242.52,983.6 L243.45,983.38 L244.38,982.96 L245.31,982.4 L246.24,984.85 L247.17,983.93 L248.1,984.1 L249.03,988.12 L249.95,984.63 L250.88,984.54 L251.81,986.42 L252.74,982.96 L253.67,983.64 L254.6,986.95 L255.53,989.31 L256.46,980.85 L257.39,988.64 L258.32,987.33 L259.25,984.71 L260.17,983.93 L261.1,983.94 L262.03,989.76 L262.96,986.18 L263.89,987.09 L264.82,987.31 L265.75,985.19 L266.68,985.21 L267.61,985.4 L268.53,986.01 L269.46,987.7 L270.39,987.29 L271.32,987.15 L272.25,986.82 L273.18,986.71 L274.11,985.63 L275.04,986.49 L275.97,989.3 L276.9,990.68 L277.82,990.68 L278.75,988.4 L279.68,989.29 L280.61,990.27 L281.54,988.51 L282.47,988.67 L283.4,990.27 L284.33,990.49 L285.26,988.25 L286.19,989.03 L287.12,987.75 L288.04,986.87 L288.97,988.83 L289.9,990.98 L290.83,990.25 L291.76,989.82 L292.69,996.2 L293.62,991.11 L294.55,988.17 L295.48,989.07 L296.4,991 L297.33,990.2 L298.26,989.34 L299.19,991.58 L300.12,992.91 L301.05,993.07 L301.98,991.3 L302.91,991.39 L303.84,990.41 L304.77,988.97 L305.69,989.3 L306.62,990.19 L307.55,993.33 L308.48,994.78 L309.41,990.21 L310.34,988.3 L311.27,988.07 L312.2,992.83 L313.13,993.58 L314.06,988.6 L314.99,989.15 L315.91,992.3 L316.84,991.97 L317.77,992.01 L318.7,991.56 L319.63,992.75 L320.56,989.74 L321.49,989 L322.42,992.36 L323.35,992.26 L324.27,989.73 L325.2,991.62 L326.13,993.81 L327.06,996.58 L327.99,994.57 L328.92,991.95 L329.85,996.73 L330.78,998.64 L331.71,995.73 L332.64,989.32 L333.56,991.69 L334.49,992.21 L335.42,993.85 L336.35,1000.3 L337.28,993.7 L338.21,990.89 L339.14,992.39 L340.07,991.21 L341,992.71 L341.93,995.43 L342.86,992.4 L343.78,988.94 L344.71,990.59 L345.64,990.9 L346.57,991.91 L347.5,994.08 L348.43,993.46 L349.36,996.5 L350.29,995.88 L351.22,993.3 L352.14,992.67 L353.07,994.29 L354,991.93 L354.93,993.82 L355.86,998.39 L356.79,997.51 L357.72,997.09 L358.65,994.01 L359.58,991.71 L360.51,995.21 L361.44,996.7 L362.36,990.94 L363.29,990.98 L364.22,996.69 L365.15,995.31 L366.08,993.17 L367.01,993.35 L367.94,995.81 L368.87,998.02 L369.8,995.72 L370.73,994.04 L371.65,997.59 L372.58,995.72 L373.51,992 L374.44,994.25 L375.37,995.92 L376.3,995.23 L377.23,995.95 L378.16,998.46 L379.09,996.94 L380.01,997.13 L380.94,997.07 L381.87,997.12 L382.8,997.94 L383.73,995.95 L384.66,993.06 L385.59,994.56 L386.52,999.6 L387.45,996.87 L388.38,998.59 L389.31,998.56 L390.23,996.14 L391.16,994.02 L392.09,992.08 L393.02,994.44 L393.95,992.91 L394.88,988.66 L395.81,993.1 L396.74,999.78 L397.67,999.59 L398.59,995.9 L399.52,999.36 L400.45,999.35 L401.38,996.08 L402.31,997.42 L403.24,996.13 L404.17,993.33 L405.1,995.07 L406.03,996.28 L406.96,996.54 L407.88,998.13 L408.81,996.98 L409.74,994.94 L410.67,995.94 L411.6,1000.22 L412.53,998.42 L413.46,997.46 L414.39,998.18 L415.32,992.91 L416.25,993.13 L417.18,997.76 L418.1,1000.02 L419.03,996.33 L419.96,994.08 L420.89,995.06 L421.82,993.59 L422.75,994.51 L423.68,995.52 L424.61,997.84 L425.54,1002.17 L426.46,1003.06 L427.39,998.36 L428.32,996.87 L429.25,997.33 L430.18,997.83 L431.11,1000.05 L432.04,999.83 L432.97,1002.18 L433.9,1004.37 L434.83,1006.01 L435.75,1005.13 L436.68,1002.81 L437.61,1003.93 L438.54,1003.98 L439.47,1002.34 L440.4,1004.85 L441.33,1005.25 L442.26,1007 L443.19,1010.94 L444.12,1005.55 L445.05,1008.29 L445.97,1006.69 L446.9,1005.58 L447.83,1006.43 L448.76,1006.11 L449.69,1005.76 L450.62,1003.63 L451.55,1005.94 L452.48,1009.53 L453.41,1008.69 L454.33,1005.75 L455.26,1006.09 L456.19,1007.95 L457.12,1006.91 L458.05,1009.63 L458.98,1011.12 L459.91,1009.44 L460.84,1008.28 L461.77,1007.52 L462.7,1009.32 L463.62,1008.89 L464.55,1009.37 L465.48,1008.99 L466.41,1008.05 L467.34,1008.55 L468.27,1008.64 L469.2,1007.07 L470.13,1006.35 L471.06,1006.88 L471.99,1003.11 L472.92,1007.89 L473.84,1007.82 L474.77,1006.42 L475.7,1006.79 L476.63,1007.76 L477.56,1008.73 L478.49,1007.3 L479.42,1004.08 L480.35,1006.14 L481.28,1008.24 L482.2,1007.72 L483.13,1007.5 L484.06,1008.26 L484.99,1006.34 L485.92,1010.47 L486.85,1020.61 L487.78,1018.09 L488.71,1017.21 L489.64,1016.62 L490.57,1017.03 L491.5,1015.01 L492.42,1011.57 L493.35,1015.69 L494.28,1018.19 L495.21,1014.05 L496.14,1013.7 L497.07,1014.13 L498,1015.66 L498.93,1016.23 L499.86,1013.46 L500.78,1010.76 L501.71,1011.37 L502.64,1013.68 L503.57,1013.61 L504.5,1012.8 L505.43,1012.17 L506.36,1011.66 L507.29,1013.05 L508.22,1012.9 L509.15,1013.53 L510.07,1012.67 L511,1009.66 L511.93,1012.09 L512.86,1012.97 L513.79,1012.67 L514.72,1011.8 L515.65,1008.93 L516.58,1010.92 L517.51,1010.74 L518.44,1010.93 L519.37,1012.91 L520.29,1013.01 L521.22,1012.32 L522.15,1011.95 L523.08,1011.51 L524.01,1011.81 L524.94,1010.98 L525.87,1008.87 L526.8,1010.38 L527.73,1013.38 L528.65,1011.79 L529.58,1008.51 L530.51,1009.56 L531.44,1012.52 L532.37,1011.92 L533.3,1008.34 L534.23,1010.96 L535.16,1012.2 L536.09,1010.19 L537.02,1011.79 L537.94,1010.72 L538.87,1011.21 L539.8,1011.4 L540.73,1008.07 L541.66,1008.16 L542.59,1010.83 L543.52,1013.22 L544.45,1013.66 L545.38,1013.68 L546.31,1010.01 L547.24,1007.96 L548.16,1011.21 L549.09,1012.45 L550.02,1012.42 L550.95,1011.23 L551.88,1011.51 L552.81,1009.01 L553.74,1008.35 L554.67,1011.43 L555.6,1010.12 L556.52,1007.34 L557.45,1006.08 L558.38,1008.52 L559.31,1010.68 L560.24,1009.08 L561.17,1008.75 L562.1,1008.62 L563.03,1010.48 L563.96,1012.38 L564.89,1010.99 L565.81,1008.59 L566.74,1009.44 L567.67,1007.92 L568.6,1010.91 L569.53,1011.38 L570.46,1014.29 L571.39,1010.51 L572.32,1008.71 L573.25,1010.36 L574.18,1013.88 L575.11,1011.67 L576.03,1009.57 L576.96,1009.8 L577.89,1009.03 L578.82,1009.47 L579.75,1009.04 L580.68,1009.94 L581.61,1010.87 L582.54,1010.8 L583.47,1012.3 L584.39,1010.51 L585.32,1008.4 L586.25,1011.6 L587.18,1013.73 L588.11,1010.95 L589.04,1008.22 L589.97,1009.44 L590.9,1011.02 L591.83,1011.97 L592.76,1008.62 L593.68,1006.28 L594.61,1008.31 L595.54,1008.1 L596.47,1008.07 L597.4,1008.15 L598.33,1009.75 L599.26,1009.59 L600.19,1009.77 L601.12,1008.42 L602.05,1009.45 L602.97,1011.77 L603.9,1010.04 L604.83,1007.78 L605.76,1008.44 L606.69,1009.13 L607.62,1011.29 L608.55,1011.04 L609.48,1008.54 L610.41,1006.81 L611.34,1007.61 L612.26,1008.38 L613.19,1010.67 L614.12,1009.59 L615.05,1006.85 L615.98,1007.61 L616.91,1009.72 L617.84,1009.11 L618.77,1009.56 L619.7,1009.97 L620.63,1010.41 L621.55,1012.6 L622.48,1011.02 L623.41,1009.4 L624.34,1007.74 L625.27,1008.53 L626.2,1010.9 L627.13,1011.95 L628.06,1014.3 L628.99,1015.08 L629.92,1015.55 L630.84,1011.37 L631.77,1010.52 L632.7,1007.25 L633.63,1009 L634.56,1008.68 L635.49,1008.02 L636.42,1008.67 L637.35,1009.21 L638.28,1009.4 L639.21,1010.27 L640.13,1010.67 L641.06,1010.05 L641.99,1010.97 L642.92,1009.59 L643.85,1009.19 L644.78,1010.05 L645.71,1009.34 L646.64,1008.22 L647.57,1010.84 L648.5,1011.12 L649.42,1008.54 L650.35,1010.15 L651.28,1010.49 L652.21,1011.18 L653.14,1009.85 L654.07,1008.47 L655,1011.04 L655.93,1008.53 L656.86,1008.59 L657.79,1009.37 L658.71,1010.54 L659.64,1012.03 L660.57,1012.5 L661.5,1012.08 L662.43,1009.09 L663.36,1008.58 L664.29,1008.8 L665.22,1010.4 L666.15,1012.64 L667.08,1011.97 L668,1010.19 L668.93,1009.19 L669.86,1009.96 L670.79,1009.66 L671.72,1009.87 L672.65,1010.71 L673.58,1008.92 L674.51,1009.66 L675.44,1011.1 L676.37,1008.39 L677.29,1007.91 L678.22,1009.69 L679.15,1010.61 L680.08,1009.08 L681.01,1011.17 L681.94,1015.06 L682.87,1013.6 L683.8,1010.2 L684.73,1008.47 L685.66,1010.86 L686.58,1012.94 L687.51,1012.19 L688.44,1010.48 L689.37,1011.83 L690.3,1013.87 L691.23,1014.42 L692.16,1012.32 L693.09,1010.59 L694.02,1010.8 L694.95,1011.41 L695.87,1013.75 L696.8,1013.53 L697.73,1012.65 L698.66,1012.69 L699.59,1010.84 L700.52,1011.75 L701.45,1013.62 L702.38,1011.54 L703.31,1009.83 L704.24,1011.88 L705.16,1016.08 L706.09,1015.36 L707.02,1010.83 L707.95,1009.38 L708.88,1011.02 L709.81,1013.24 L710.74,1012.95 L711.67,1011.11 L712.6,1012.04 L713.53,1013.24 L714.45,1012.94 L715.38,1012.47 L716.31,1013.27 L717.24,1013.14 L718.17,1011.83 L719.1,1012.59 L720.03,1011.24 L720.96,1013.99 L721.89,1012.16 L722.82,1012.26 L723.74,1009.37 L724.67,1010.92 L725.6,1009.79 L726.53,1009.11 L727.46,1009.17 L728.39,1010.07 L729.32,1012.7 L730.25,1010.35 L731.18,1006.49 L732.11,1007.16 L733.03,1008.67 L733.96,1009.98 L734.89,1012.68 L735.82,1012.29 L736.75,1008.69 L737.68,1010.66 L738.61,1013.08 L739.54,1013.07 L740.47,1012.24 L741.4,1008.68 L742.32,1010.39 L743.25,1012.01 L744.18,1008.82 L745.11,1008.44 L746.04,1011.66 L746.97,1013.21 L747.9,1014.2 L748.83,1011.61 L749.76,1010.04 L750.69,1009.71 L751.61,1007.72 L752.54,1009.87 L753.47,1011.64 L754.4,1009.86 L755.33,1009.03 L756.26,1009.69 L757.19,1011.95 L758.12,1011.18 L759.05,1010.23 L759.98,1014.21 L760.9,1013.91 L761.83,1010.56 L762.76,1007.19 L763.69,1008.2 L764.62,1012.5 L765.55,1009.4 L766.48,1007.56 L767.41,1010.56 L768.34,1012.12 L769.27,1013.07 L770.19,1009.89 L771.12,1008.99 L772.05,1011.53 L772.98,1011.85 L773.91,1009.24 L774.84,1009.36 L775.77,1010.53 L776.7,1009.46 L777.63,1009.95 L778.56,1011.37 L779.48,1010.85 L780.41,1007.75 L781.34,1008.63 L782.27,1011.79 L783.2,1013.34 L784.13,1011.95 L785.06,1010.68 L785.99,1011.05 L786.92,1010.69 L787.85,1014.41 L788.77,1011.45 L789.7,1009.31 L790.63,1010.38 L791.56,1010.38 L792.49,1009.13 L793.42,1013.25 L794.35,1011.57 L795.28,1010.18 L796.21,1009.66 L797.14,1012.03 L798.06,1013.44 L798.99,1011.59 L799.92,1011.88 L800.85,1012.54 L801.78,1010.67 L802.71,1009.97 L803.64,1009.27 L804.57,1008.92 L805.5,1010.7 L806.43,1011.49 L807.35,1010.67 L808.28,1010.4 L809.21,1011.67 L810.14,1011.06 L811.07,1010.04 L812,1009.4 L812.93,1011.08 L813.86,1013.14 L814.79,1012.05 L815.72,1009.91 L816.64,1011.88 L817.57,1011.32 L818.5,1012.47 L819.43,1012.26 L820.36,1010.97 L821.29,1010.89 L822.22,1011.41 L823.15,1011.88 L824.08,1011.32 L825.01,1010.49 L825.93,1011.89 L826.86,1011.28 L827.79,1007.27 L828.72,1009.37 L829.65,1010.57 L830.58,1011.87 L831.51,1013.2 L832.44,1012.06 L833.37,1013.33 L834.3,1014.8 L835.22,1012.6 L836.15,1011.09 L837.08,1008.16 L838.01,1013.03 L838.94,1012.55 L839.87,1014.61 L840.8,1012.74 L841.73,1011.8 L842.66,1012.23 L843.59,1013.19 L844.51,1013.25 L845.44,1011.12 L846.37,1012.21 L847.3,1013.38 L848.23,1009.96 L849.16,1009.28 L850.09,1011.84 L851.02,1011.68 L851.95,1012.02 L852.88,1012.81 L853.8,1005.79 L854.73,1007.51 L855.66,1011.56 L856.59,1013.02 L857.52,1008.42 L858.45,1009.95 L859.38,1012.03 L860.31,1010.7 L861.24,1010.35 L862.17,1011.64 L863.09,1011.06 L864.02,1014.01 L864.95,1013.47 L865.88,1011.27 L866.81,1010.76 L867.74,1008.14 L868.67,1008.67 L869.6,1011.96 L870.53,1012.48 L871.46,1011.99 L872.38,1011.5 L873.31,1018.71 L874.24,1016.73 L875.17,1017.71 L876.1,1015.71 L877.03,1013.13 L877.96,1014.64 L878.89,1015.47 L879.82,1015.34 L880.75,1015.54 L881.67,1015.18 L882.6,1014.58 L883.53,1012.39 L884.46,1011.32 L885.39,1012.53 L886.32,1016.52 L887.25,1011.82 L888.18,1011.2 L889.11,1012.28 L890.04,1011.89 L890.96,1010.23 L891.89,1012.6 L892.82,1019.95 L893.75,1016.06 L894.68,1014.46 L895.61,1012.71 L896.54,1014.12 L897.47,1014.6 L898.4,1012.89 L899.33,1012.12 L900.25,1013.65 L901.18,1011.9 L902.11,1012.54 L903.04,1015.69 L903.97,1011.14 L904.9,1010.02" fill="none" stroke="#000000" stroke-width="1.75" stroke-linejoin="miter" clip-path="url(#c3)"/>
<path d="M68.8,1039.21 L69.73,1038.88 L70.66,1040.5 L71.59,1038.96 L72.52,1039.54 L73.44,1039.59 L74.37,1038.16 L75.3,1039.9 L76.23,1038.18 L77.16,1034.85 L78.09,1036.51 L79.02,1037.09 L79.95,1035.29 L80.88,1035.01 L81.81,1035.55 L82.73,1033.12 L83.66,1035.27 L84.59,1032.98 L85.52,1033.01 L86.45,1034.75 L87.38,1028.33 L88.31,1030.29 L89.24,1032.52 L90.17,1029.86 L91.1,1029.11 L92.02,1033.14 L92.95,1033.27 L93.88,1033.99 L94.81,1031.85 L95.74,1029.19 L96.67,1031.17 L97.6,1029.06 L98.53,1029.94 L99.46,1030.36 L100.39,1030.62 L101.31,1031.86 L102.24,1030.53 L103.17,1027.63 L104.1,1024.08 L105.03,1026.49 L105.96,1027.81 L106.89,1027.79 L107.82,1030.14 L108.75,1029.18 L109.68,1032.06 L110.6,1033.13 L111.53,1026.59 L112.46,1024.97 L113.39,1024.87 L114.32,1026.48 L115.25,1025.8 L116.18,1024.6 L117.11,1026.62 L118.04,1026.36 L118.97,1026.41 L119.89,1026.86 L120.82,1028.27 L121.75,1027.06 L122.68,1025.18 L123.61,1024.12 L124.54,1024.27 L125.47,1027.94 L126.4,1027.41 L127.33,1022.71 L128.26,1023.02 L129.19,1026.36 L130.11,1035.91 L131.04,1027.78 L131.97,1026.77 L132.9,1027.03 L133.83,1024.89 L134.76,1023.88 L135.69,1025.72 L136.62,1023.67 L137.55,1022.04 L138.47,1024.19 L139.4,1025.73 L140.33,1024.63 L141.26,1025.37 L142.19,1028.6 L143.12,1027.62 L144.05,1024.37 L144.98,1024.75 L145.91,1027.11 L146.84,1027.96 L147.76,1027.62 L148.69,1027.84 L149.62,1025.56 L150.55,1023.36 L151.48,1024.23 L152.41,1025.54 L153.34,1025.62 L154.27,1026.4 L155.2,1026.52 L156.13,1028.34 L157.06,1026.56 L157.98,1024.7 L158.91,1023.47 L159.84,1026.66 L160.77,1028.27 L161.7,1028.85 L162.63,1027.73 L163.56,1026.09 L164.49,1028.29 L165.42,1028.11 L166.34,1026.95 L167.27,1025.71 L168.2,1024.73 L169.13,1024.3 L170.06,1025.09 L170.99,1027.71 L171.92,1026.87 L172.85,1025.3 L173.78,1025.07 L174.71,1028.04 L175.63,1034.15 L176.56,1027.17 L177.49,1028.04 L178.42,1028.99 L179.35,1026.38 L180.28,1028.43 L181.21,1029.51 L182.14,1028.34 L183.07,1027.22 L184,1028.22 L184.93,1027.52 L185.85,1026.92 L186.78,1027.55 L187.71,1026.92 L188.64,1026.97 L189.57,1028.91 L190.5,1026.91 L191.43,1029.51 L192.36,1028.75 L193.29,1029.41 L194.21,1031.92 L195.14,1030.42 L196.07,1029.75 L197,1032.26 L197.93,1030.02 L198.86,1028.49 L199.79,1028.11 L200.72,1028.03 L201.65,1030.01 L202.58,1030.85 L203.5,1030.05 L204.43,1028.8 L205.36,1031.65 L206.29,1029.11 L207.22,1029.96 L208.15,1029.55 L209.08,1029.83 L210.01,1030.05 L210.94,1026.89 L211.87,1025.31 L212.8,1024.11 L213.72,1027.5 L214.65,1028.76 L215.58,1025.39 L216.51,1025.18 L217.44,1027.92 L218.37,1028.71 L219.3,1025.3 L220.23,1027.76 L221.16,1029.56 L222.08,1026.37 L223.01,1027.91 L223.94,1029.1 L224.87,1029.19 L225.8,1031 L226.73,1030.76 L227.66,1029.58 L228.59,1028.74 L229.52,1027.87 L230.45,1029 L231.38,1030.39 L232.3,1027.98 L233.23,1027.08 L234.16,1029.9 L235.09,1029.74 L236.02,1029.22 L236.95,1028.96 L237.88,1027.96 L238.81,1026.88 L239.74,1027.08 L240.66,1029.47 L241.59,1032.71 L242.52,1028.38 L243.45,1028.02 L244.38,1027.48 L245.31,1026.78 L246.24,1029.1 L247.17,1028.06 L248.1,1028.1 L249.03,1031.98 L249.95,1028.36 L250.88,1028.15 L251.81,1029.9 L252.74,1026.31 L253.67,1026.89 L254.6,1030.13 L255.53,1032.41 L256.46,1024.01 L257.39,1031.88 L258.32,1030.65 L259.25,1028.11 L260.17,1027.41 L261.1,1027.5 L262.03,1033.4 L262.96,1029.9 L263.89,1030.89 L264.82,1031.19 L265.75,1029.15 L266.68,1029.25 L267.61,1029.52 L268.53,1029.98 L269.46,1031.44 L270.39,1030.8 L271.32,1030.42 L272.25,1029.85 L273.18,1029.51 L274.11,1028.19 L275.04,1028.81 L275.97,1031.39 L276.9,1032.54 L277.82,1032.36 L278.75,1030.47 L279.68,1031.59 L280.61,1032.51 L281.54,1030.69 L282.47,1030.79 L283.4,1032.35 L284.33,1032.51 L285.26,1030.21 L286.19,1030.94 L287.12,1029.6 L288.04,1028.67 L288.97,1030.58 L289.9,1032.67 L290.83,1031.89 L291.76,1031.4 L292.69,1037.73 L293.62,1032.58 L294.55,1029.59 L295.48,1030.44 L296.4,1032.3 L297.33,1031.45 L298.26,1030.54 L299.19,1032.73 L300.12,1034 L301.05,1034.1 L301.98,1032.28 L302.91,1032.31 L303.84,1031.28 L304.77,1029.78 L305.69,1030.07 L306.62,1030.9 L307.55,1033.98 L308.48,1035.38 L309.41,1030.76 L310.34,1028.79 L311.27,1028.51 L312.2,1033.21 L313.13,1033.9 L314.06,1028.87 L314.99,1029.37 L315.91,1032.46 L316.84,1032.08 L317.77,1032.07 L318.7,1031.56 L319.63,1032.7 L320.56,1029.63 L321.49,1028.83 L322.42,1032.14 L323.35,1031.99 L324.27,1029.4 L325.2,1031.24 L326.13,1033.37 L327.06,1036.09 L327.99,1034.02 L328.92,1031.34 L329.85,1036.07 L330.78,1037.92 L331.71,1034.96 L332.64,1028.5 L333.56,1030.82 L334.49,1031.27 L335.42,1032.86 L336.35,1039.26 L337.28,1032.6 L338.21,1029.74 L339.14,1031.18 L340.07,1029.95 L341,1031.4 L341.93,1034.06 L342.86,1030.98 L343.78,1027.46 L344.71,1029.06 L345.64,1029.31 L346.57,1030.27 L347.5,1032.38 L348.43,1031.72 L349.36,1034.73 L350.29,1034.06 L351.22,1031.45 L352.14,1030.78 L353.07,1032.36 L354,1029.96 L354.93,1031.81 L355.86,1036.34 L356.79,1035.42 L357.72,1034.96 L358.65,1031.84 L359.58,1029.5 L360.51,1032.96 L361.44,1034.41 L362.36,1028.61 L363.29,1028.61 L364.22,1034.28 L365.15,1032.86 L366.08,1030.68 L367.01,1030.82 L367.94,1033.25 L368.87,1035.41 L369.8,1033.07 L370.73,1031.36 L371.65,1034.86 L372.58,1032.96 L373.51,1029.19 L374.44,1031.41 L375.37,1033.04 L376.3,1032.31 L377.23,1032.99 L378.16,1035.46 L379.09,1033.9 L380.01,1034.05 L380.94,1033.95 L381.87,1033.96 L382.8,1034.74 L383.73,1032.71 L384.66,1029.78 L385.59,1031.24 L386.52,1036.24 L387.45,1033.47 L388.38,1035.16 L389.31,1035.08 L390.23,1032.64 L391.16,1030.5 L392.09,1028.54 L393.02,1030.88 L393.95,1029.32 L394.88,1025.06 L395.81,1029.47 L396.74,1036.13 L397.67,1035.92 L398.59,1032.2 L399.52,1035.64 L400.45,1035.62 L401.38,1032.32 L402.31,1033.64 L403.24,1032.33 L404.17,1029.51 L405.1,1031.23 L406.03,1032.42 L406.96,1032.66 L407.88,1034.22 L408.81,1033.06 L409.74,1030.99 L410.67,1031.97 L411.6,1036.22 L412.53,1034.41 L413.46,1033.42 L414.39,1034.13 L415.32,1028.83 L416.25,1029.03 L417.18,1033.64 L418.1,1035.88 L419.03,1032.17 L419.96,1029.89 L420.89,1030.86 L421.82,1029.36 L422.75,1030.26 L423.68,1031.25 L424.61,1033.55 L425.54,1037.86 L426.46,1038.73 L427.39,1034 L428.32,1032.17 L429.25,1031.99 L430.18,1031.84 L431.11,1033.41 L432.04,1032.54 L432.97,1034.52 L433.9,1036.45 L434.83,1037.83 L435.75,1036.69 L436.68,1034.12 L437.61,1034.98 L438.54,1034.78 L439.47,1032.88 L440.4,1035.14 L441.33,1035.56 L442.26,1037.33 L443.19,1041.3 L444.12,1035.93 L445.05,1038.7 L445.97,1037.11 L446.9,1036.03 L447.83,1036.91 L448.76,1036.61 L449.69,1036.28 L450.62,1034.17 L451.55,1036.51 L452.48,1040.12 L453.41,1039.31 L454.33,1036.39 L455.26,1036.75 L456.19,1038.64 L457.12,1037.62 L458.05,1040.36 L458.98,1041.83 L459.91,1040.14 L460.84,1038.96 L461.77,1038.18 L462.7,1039.97 L463.62,1039.52 L464.55,1039.98 L465.48,1039.58 L466.41,1038.63 L467.34,1039.11 L468.27,1039.18 L469.2,1037.59 L470.13,1036.86 L471.06,1037.37 L471.99,1033.58 L472.92,1038.35 L473.84,1038.26 L474.77,1036.84 L475.7,1037.19 L476.63,1038.15 L477.56,1039.1 L478.49,1037.65 L479.42,1034.41 L480.35,1036.46 L481.28,1038.54 L482.2,1038.01 L483.13,1037.78 L484.06,1038.52 L484.99,1036.6 L485.92,1040.72 L486.85,1042.88 L487.78,1040.73 L488.71,1040.23 L489.64,1040.01 L490.57,1040.78 L491.5,1039.14 L492.42,1036.07 L493.35,1040.56 L494.28,1043.43 L495.21,1039.63 L496.14,1039.55 L497.07,1040.27 L498,1042.08 L498.93,1042.94 L499.86,1040.45 L500.78,1038.04 L501.71,1038.93 L502.64,1041.39 L503.57,1041.44 L504.5,1040.75 L505.43,1040.24 L506.36,1039.84 L507.29,1041.35 L508.22,1041.32 L509.15,1042.07 L510.07,1041.33 L511,1038.43 L511.93,1040.98 L512.86,1041.99 L513.79,1041.81 L514.72,1041.05 L515.65,1038.3 L516.58,1040.41 L517.51,1040.35 L518.44,1040.65 L519.37,1042.75 L520.29,1042.98 L521.22,1042.4 L522.15,1042.15 L523.08,1041.83 L524.01,1042.25 L524.94,1041.54 L525.87,1039.55 L526.8,1041.18 L527.73,1044.29 L528.65,1042.82 L529.58,1039.66 L530.51,1040.82 L531.44,1043.91 L532.37,1043.42 L533.3,1039.96 L534.23,1042.68 L535.16,1044.02 L536.09,1042.11 L537.02,1043.81 L537.94,1042.83 L538.87,1043.42 L539.8,1043.71 L540.73,1040.49 L541.66,1040.67 L542.59,1043.45 L543.52,1045.93 L544.45,1046.47 L545.38,1046.59 L546.31,1043.02 L547.24,1041.07 L548.16,1044.41 L549.09,1045.76 L550.02,1045.82 L550.95,1044.77 L551.88,1045.19 L552.81,1042.82 L553.74,1042.3 L554.67,1045.52 L555.6,1044.35 L556.52,1041.71 L557.45,1040.59 L558.38,1043.16 L559.31,1045.46 L560.24,1044 L561.17,1043.8 L562.1,1043.82 L563.03,1045.81 L563.96,1047.85 L564.89,1046.6 L565.81,1044.33 L566.74,1045.32 L567.67,1043.81 L568.6,1046.81 L569.53,1047.28 L570.46,1050.21 L571.39,1046.44 L572.32,1044.64 L573.25,1046.3 L574.18,1049.83 L575.11,1047.63 L576.03,1045.53 L576.96,1045.77 L577.89,1045.01 L578.82,1045.46 L579.75,1045.04 L580.68,1045.95 L581.61,1046.89 L582.54,1046.83 L583.47,1048.34 L584.39,1046.55 L585.32,1044.45 L586.25,1047.66 L587.18,1049.8 L588.11,1047.02 L589.04,1044.36 L589.97,1045.62 L590.9,1047.26 L591.83,1048.26 L592.76,1044.97 L593.68,1042.68 L594.61,1044.77 L595.54,1044.61 L596.47,1044.63 L597.4,1044.77 L598.33,1046.42 L599.26,1046.32 L600.19,1046.55 L601.12,1045.26 L602.05,1046.35 L602.97,1048.71 L603.9,1047.04 L604.83,1044.83 L605.76,1045.55 L606.69,1046.29 L607.62,1048.51 L608.55,1048.31 L609.48,1045.86 L610.41,1044.19 L611.34,1045.05 L612.26,1045.87 L613.19,1048.21 L614.12,1047.19 L615.05,1044.5 L615.98,1045.31 L616.91,1047.48 L617.84,1046.93 L618.77,1047.43 L619.7,1047.9 L620.63,1048.39 L621.55,1050.63 L622.48,1049.1 L623.41,1047.54 L624.34,1045.94 L625.27,1046.78 L626.2,1049.2 L627.13,1050.28 L628.06,1052.64 L628.99,1053.44 L629.92,1053.93 L630.84,1049.77 L631.77,1048.94 L632.7,1045.7 L633.63,1047.46 L634.56,1047.17 L635.49,1046.53 L636.42,1047.19 L637.35,1047.76 L638.28,1047.97 L639.21,1048.86 L640.13,1049.28 L641.06,1048.68 L641.99,1049.62 L642.92,1048.26 L643.85,1047.88 L644.78,1048.76 L645.71,1048.07 L646.64,1046.97 L647.57,1049.61 L648.5,1049.91 L649.42,1047.35 L650.35,1048.98 L651.28,1049.34 L652.21,1050.05 L653.14,1048.74 L654.07,1047.38 L655,1049.97 L655.93,1047.48 L656.86,1047.56 L657.79,1048.37 L658.71,1049.55 L659.64,1051.06 L660.57,1051.55 L661.5,1051.15 L662.43,1048.18 L663.36,1047.69 L664.29,1047.93 L665.22,1049.54 L666.15,1051.81 L667.08,1051.16 L668,1049.39 L668.93,1048.42 L669.86,1049.21 L670.79,1048.93 L671.72,1049.15 L672.65,1050.01 L673.58,1048.25 L674.51,1049.01 L675.44,1050.46 L676.37,1047.77 L677.29,1047.31 L678.22,1049.11 L679.15,1050.05 L680.08,1048.54 L681.01,1050.65 L681.94,1054.56 L682.87,1053.12 L683.8,1049.74 L684.73,1048.03 L685.66,1050.44 L686.58,1052.53 L687.51,1051.81 L688.44,1050.12 L689.37,1051.49 L690.3,1053.55 L691.23,1054.12 L692.16,1052.04 L693.09,1050.33 L694.02,1050.56 L694.95,1051.19 L695.87,1053.54 L696.8,1053.35 L697.73,1052.48 L698.66,1052.54 L699.59,1050.72 L700.52,1051.66 L701.45,1053.56 L702.38,1051.51 L703.31,1049.84 L704.24,1051.92 L705.16,1056.15 L706.09,1055.45 L707.02,1050.96 L707.95,1049.54 L708.88,1051.21 L709.81,1053.46 L710.74,1053.21 L711.67,1051.4 L712.6,1052.35 L713.53,1053.58 L714.45,1053.31 L715.38,1052.88 L716.31,1053.71 L717.24,1053.61 L718.17,1052.33 L719.1,1053.12 L720.03,1051.79 L720.96,1054.55 L721.89,1052.75 L722.82,1052.87 L723.74,1049.99 L724.67,1051.56 L725.6,1050.45 L726.53,1049.79 L727.46,1049.87 L728.39,1050.79 L729.32,1053.43 L730.25,1051.11 L731.18,1047.26 L732.11,1047.95 L733.03,1049.48 L733.96,1050.81 L734.89,1053.52 L735.82,1053.16 L736.75,1049.57 L737.68,1051.56 L738.61,1054 L739.54,1054.01 L740.47,1053.2 L741.4,1049.66 L742.32,1051.4 L743.25,1053.05 L744.18,1049.89 L745.11,1049.54 L746.04,1052.79 L746.97,1054.38 L747.9,1055.39 L748.83,1052.83 L749.76,1051.3 L750.69,1051 L751.61,1049.03 L752.54,1051.22 L753.47,1053.01 L754.4,1051.27 L755.33,1050.47 L756.26,1051.16 L757.19,1053.45 L758.12,1052.71 L759.05,1051.8 L759.98,1055.81 L760.9,1055.53 L761.83,1052.22 L762.76,1048.88 L763.69,1049.92 L764.62,1054.25 L765.55,1051.18 L766.48,1049.37 L767.41,1052.4 L768.34,1053.99 L769.27,1054.97 L770.19,1051.83 L771.12,1050.96 L772.05,1053.53 L772.98,1053.88 L773.91,1051.3 L774.84,1051.45 L775.77,1052.62 L776.7,1051.55 L777.63,1052.04 L778.56,1053.47 L779.48,1052.94 L780.41,1049.84 L781.34,1050.72 L782.27,1053.88 L783.2,1055.43 L784.13,1054.04 L785.06,1052.77 L785.99,1053.14 L786.92,1052.78 L787.85,1056.51 L788.77,1053.54 L789.7,1051.4 L790.63,1052.47 L791.56,1052.47 L792.49,1051.22 L793.42,1055.34 L794.35,1053.66 L795.28,1052.27 L796.21,1051.75 L797.14,1054.12 L798.06,1055.53 L798.99,1053.68 L799.92,1053.97 L800.85,1054.63 L801.78,1052.76 L802.71,1052.07 L803.64,1051.36 L804.57,1051.01 L805.5,1052.79 L806.43,1053.58 L807.35,1052.76 L808.28,1052.49 L809.21,1053.76 L810.14,1053.15 L811.07,1052.13 L812,1051.49 L812.93,1053.19 L813.86,1055.27 L814.79,1054.2 L815.72,1052.08 L816.64,1054.06 L817.57,1053.53 L818.5,1054.7 L819.43,1054.5 L820.36,1053.23 L821.29,1053.17 L822.22,1053.71 L823.15,1054.2 L824.08,1053.66 L825.01,1052.84 L825.93,1054.27 L826.86,1053.68 L827.79,1049.69 L828.72,1051.81 L829.65,1053.02 L830.58,1054.35 L831.51,1055.7 L832.44,1054.57 L833.37,1055.86 L834.3,1057.35 L835.22,1055.17 L836.15,1053.68 L837.08,1050.77 L838.01,1055.66 L838.94,1055.19 L839.87,1057.27 L840.8,1055.42 L841.73,1054.5 L842.66,1054.95 L843.59,1055.93 L844.51,1056.01 L845.44,1053.98 L846.37,1055.15 L847.3,1056.42 L848.23,1053.09 L849.16,1052.51 L850.09,1055.17 L851.02,1055.1 L851.95,1055.53 L852.88,1056.42 L853.8,1049.49 L854.73,1051.31 L855.66,1055.45 L856.59,1057.01 L857.52,1052.5 L858.45,1054.12 L859.38,1056.3 L860.31,1055.07 L861.24,1054.81 L862.17,1056.19 L863.09,1055.71 L864.02,1058.75 L864.95,1058.31 L865.88,1056.2 L866.81,1055.54 L867.74,1052.76 L868.67,1053.13 L869.6,1056.27 L870.53,1056.63 L871.46,1055.98 L872.38,1055.33 L873.31,1062.39 L874.24,1060.25 L875.17,1061.07 L876.1,1058.92 L877.03,1056.32 L877.96,1057.8 L878.89,1058.62 L879.82,1058.46 L880.75,1058.64 L881.67,1058.26 L882.6,1057.65 L883.53,1055.44 L884.46,1054.34 L885.39,1055.53 L886.32,1059.5 L887.25,1054.78 L888.18,1054.14 L889.11,1055.2 L890.04,1054.79 L890.96,1053.11 L891.89,1055.46 L892.82,1062.79 L893.75,1058.88 L894.68,1057.26 L895.61,1055.49 L896.54,1056.88 L897.47,1057.35 L898.4,1055.65 L899.33,1054.88 L900.25,1056.4 L901.18,1054.66 L902.11,1055.3 L903.04,1058.45 L903.97,1053.9 L904.9,1052.78" fill="none" stroke="#1f77b4" stroke-width="1.75" stroke-linejoin="miter" clip-path="url(#c3)"/>
<path d="M68.8,883.86 L69.73,891.82 L70.66,899.78 L71.59,907.75 L72.52,915.71 L73.44,921.36 L74.37,927.01 L75.3,932.67 L76.23,938.16 L77.16,942.16 L78.09,946.17 L79.02,950.18 L79.95,954.13 L80.88,957.53 L81.81,960.92 L82.73,964.32 L83.66,967.61 L84.59,969.92 L85.52,972.23 L86.45,974.54 L87.38,976.85 L88.31,979.16 L89.24,980.86 L90.17,982.41 L91.1,983.96 L92.02,985.51 L92.95,987.06 L93.88,988.62 L94.81,990.17 L95.74,991.72 L96.67,992.71 L97.6,993.64 L98.53,994.57 L99.46,995.5 L100.39,996.43 L101.31,997.36 L102.24,998.29 L103.17,999.22 L104.1,1000.01 L105.03,1000.8 L105.96,1001.59 L106.89,1002.38 L107.82,1003.17 L108.75,1003.96 L109.68,1004.75 L110.6,1005.54 L111.53,1006.33 L112.46,1006.94 L113.39,1007.46 L114.32,1007.98 L115.25,1008.51 L116.18,1009.03 L117.11,1009.56 L118.04,1010.08 L118.97,1010.6 L119.89,1011.13 L120.82,1011.65 L121.75,1012.18 L122.68,1012.7 L123.61,1013.17 L124.54,1013.64 L125.47,1014.1 L126.4,1014.56 L127.33,1015.02 L128.26,1015.49 L129.19,1015.95 L130.11,1016.41 L131.04,1016.87 L131.97,1017.33 L132.9,1017.8 L133.83,1018.29 L134.76,1018.78 L135.69,1019.27 L136.62,1019.76 L137.55,1020.25 L138.47,1020.74 L139.4,1021.23 L140.33,1021.72 L141.26,1022.21 L142.19,1022.69 L143.12,1023.18 L144.05,1023.67 L144.98,1024.16 L145.91,1024.63 L146.84,1025.11 L147.76,1025.58 L148.69,1026.05 L149.62,1026.52 L150.55,1027 L151.48,1027.47 L152.41,1027.94 L153.34,1028.41 L154.27,1028.89 L155.2,1029.36 L156.13,1029.83 L157.06,1030.3 L157.98,1030.69 L158.91,1031.06 L159.84,1031.43 L160.77,1031.8 L161.7,1032.17 L162.63,1032.53 L163.56,1032.9 L164.49,1033.27 L165.42,1033.64 L166.34,1034.01 L167.27,1034.38 L168.2,1034.74 L169.13,1035.11 L170.06,1035.44 L170.99,1035.73 L171.92,1036.01 L172.85,1036.3 L173.78,1036.59 L174.71,1036.87 L175.63,1037.16 L176.56,1037.45 L177.49,1037.74 L178.42,1038.02 L179.35,1038.31 L180.28,1038.6 L181.21,1038.88 L182.14,1039.15 L183.07,1039.39 L184,1039.63 L184.93,1039.87 L185.85,1040.11 L186.78,1040.35 L187.71,1040.58 L188.64,1040.82 L189.57,1041.06 L190.5,1041.3 L191.43,1041.54 L192.36,1041.77 L193.29,1042.01 L194.21,1042.25 L195.14,1042.49 L196.07,1042.73 L197,1042.94 L197.93,1043.13 L198.86,1043.31 L199.79,1043.49 L200.72,1043.68 L201.65,1043.86 L202.58,1044.04 L203.5,1044.23 L204.43,1044.41 L205.36,1044.59 L206.29,1044.77 L207.22,1044.96 L208.15,1045.14 L209.08,1045.32 L210.01,1045.51 L210.94,1045.69 L211.87,1045.86 L212.8,1046.02 L213.72,1046.17 L214.65,1046.33 L215.58,1046.49 L216.51,1046.65 L217.44,1046.8 L218.37,1046.96 L219.3,1047.12 L220.23,1047.28 L221.16,1047.43 L222.08,1047.59 L223.01,1047.75 L223.94,1047.91 L224.87,1048.06 L225.8,1048.22 L226.73,1048.38 L227.66,1048.54 L228.59,1048.7 L229.52,1048.85 L230.45,1049.01 L231.38,1049.15 L232.3,1049.28 L233.23,1049.4 L234.16,1049.52 L235.09,1049.64 L236.02,1049.76 L236.95,1049.88 L237.88,1050.01 L238.81,1050.13 L239.74,1050.25 L240.66,1050.37 L241.59,1050.49 L242.52,1050.61 L243.45,1050.73 L244.38,1050.86 L245.31,1050.98 L246.24,1051.1 L247.17,1051.22 L248.1,1051.34 L249.03,1051.46 L249.95,1051.59 L250.88,1051.71 L251.81,1051.83 L252.74,1051.95 L253.67,1052.06 L254.6,1052.15 L255.53,1052.24 L256.46,1052.33 L257.39,1052.43 L258.32,1052.52 L259.25,1052.61 L260.17,1052.7 L261.1,1052.79 L262.03,1052.89 L262.96,1052.98 L263.89,1053.07 L264.82,1053.16 L265.75,1053.26 L266.68,1053.35 L267.61,1053.44 L268.53,1053.53 L269.46,1053.63 L270.39,1053.72 L271.32,1053.81 L272.25,1053.9 L273.18,1054 L274.11,1054.09 L275.04,1054.18 L275.97,1054.27 L276.9,1054.37 L277.82,1054.45 L278.75,1054.51 L279.68,1054.56 L280.61,1054.61 L281.54,1054.66 L282.47,1054.71 L283.4,1054.76 L284.33,1054.81 L285.26,1054.86 L286.19,1054.91 L287.12,1054.96 L288.04,1055.01 L288.97,1055.06 L289.9,1055.11 L290.83,1055.16 L291.76,1055.21 L292.69,1055.26 L293.62,1055.31 L294.55,1055.36 L295.48,1055.41 L296.4,1055.46 L297.33,1055.51 L298.26,1055.56 L299.19,1055.61 L300.12,1055.66 L301.05,1055.72 L301.98,1055.77 L302.91,1055.82 L303.84,1055.87 L304.77,1055.92 L305.69,1055.97 L306.62,1056.02 L307.55,1056.07 L308.48,1056.12 L309.41,1056.17 L310.34,1056.22 L311.27,1056.27 L312.2,1056.32 L313.13,1056.37 L314.06,1056.42 L314.99,1056.47 L315.91,1056.52 L316.84,1056.57 L317.77,1056.62 L318.7,1056.67 L319.63,1056.72 L320.56,1056.77 L321.49,1056.82 L322.42,1056.87 L323.35,1056.92 L324.27,1056.98 L325.2,1057.03 L326.13,1057.08 L327.06,1057.13 L327.99,1057.18 L328.92,1057.23 L329.85,1057.28 L330.78,1057.33 L331.71,1057.38 L332.64,1057.43 L333.56,1057.48 L334.49,1057.53 L335.42,1057.58 L336.35,1057.63 L337.28,1057.68 L338.21,1057.73 L339.14,1057.78 L340.07,1057.83 L341,1057.88 L341.93,1057.93 L342.86,1057.98 L343.78,1058.03 L344.71,1058.08 L345.64,1058.13 L346.57,1058.19 L347.5,1058.24 L348.43,1058.28 L349.36,1058.31 L350.29,1058.35 L351.22,1058.39 L352.14,1058.43 L353.07,1058.47 L354,1058.51 L354.93,1058.55 L355.86,1058.59 L356.79,1058.63 L357.72,1058.67 L358.65,1058.71 L359.58,1058.75 L360.51,1058.79 L361.44,1058.83 L362.36,1058.87 L363.29,1058.91 L364.22,1058.95 L365.15,1058.99 L366.08,1059.03 L367.01,1059.07 L367.94,1059.11 L368.87,1059.15 L369.8,1059.19 L370.73,1059.23 L371.65,1059.26 L372.58,1059.3 L373.51,1059.34 L374.44,1059.38 L375.37,1059.42 L376.3,1059.46 L377.23,1059.5 L378.16,1059.54 L379.09,1059.58 L380.01,1059.62 L380.94,1059.66 L381.87,1059.7 L382.8,1059.74 L383.73,1059.78 L384.66,1059.82 L385.59,1059.86 L386.52,1059.9 L387.45,1059.94 L388.38,1059.98 L389.31,1060.02 L390.23,1060.04 L391.16,1060.07 L392.09,1060.09 L393.02,1060.12 L393.95,1060.14 L394.88,1060.17 L395.81,1060.19 L396.74,1060.22 L397.67,1060.24 L398.59,1060.27 L399.52,1060.3 L400.45,1060.32 L401.38,1060.35 L402.31,1060.37 L403.24,1060.4 L404.17,1060.42 L405.1,1060.45 L406.03,1060.47 L406.96,1060.5 L407.88,1060.52 L408.81,1060.55 L409.74,1060.57 L410.67,1060.6 L411.6,1060.62 L412.53,1060.65 L413.46,1060.68 L414.39,1060.7 L415.32,1060.73 L416.25,1060.75 L417.18,1060.78 L418.1,1060.8 L419.03,1060.83 L419.96,1060.85 L420.89,1060.88 L421.82,1060.9 L422.75,1060.93 L423.68,1060.95 L424.61,1060.98 L425.54,1061 L426.46,1061.03 L427.39,1061.05 L428.32,1061.08 L429.25,1061.11 L430.18,1061.13 L431.11,1061.66 L432.04,1062.19 L432.97,1062.73 L433.9,1063.26 L434.83,1063.79 L435.75,1064.32 L436.68,1064.71 L437.61,1064.76 L438.54,1064.8 L439.47,1064.85 L440.4,1064.9 L441.33,1064.95 L442.26,1064.99 L443.19,1065.04 L444.12,1065.09 L445.05,1065.14 L445.97,1065.19 L446.9,1065.23 L447.83,1065.28 L448.76,1065.33 L449.69,1065.38 L450.62,1065.43 L451.55,1065.47 L452.48,1065.52 L453.41,1065.57 L454.33,1065.62 L455.26,1065.66 L456.19,1065.71 L457.12,1065.76 L458.05,1065.81 L458.98,1065.85 L459.91,1065.9 L460.84,1065.94 L461.77,1065.99 L462.7,1066.03 L463.62,1066.07 L464.55,1066.12 L465.48,1066.16 L466.41,1066.21 L467.34,1066.25 L468.27,1066.3 L469.2,1066.34 L470.13,1066.39 L471.06,1066.43 L471.99,1066.48 L472.92,1066.52 L473.84,1066.56 L474.77,1066.61 L475.7,1066.65 L476.63,1066.7 L477.56,1066.74 L478.49,1066.79 L479.42,1066.83 L480.35,1066.88 L481.28,1066.92 L482.2,1066.97 L483.13,1067.01 L484.06,1067.05 L484.99,1067.1 L485.92,1067.14 L486.85,1075.16 L487.78,1074.53 L488.71,1073.9 L489.64,1073.27 L490.57,1072.64 L491.5,1072.01 L492.42,1071.37 L493.35,1071.16 L494.28,1070.94 L495.21,1070.72 L496.14,1070.5 L497.07,1070.28 L498,1070.06 L498.93,1069.85 L499.86,1069.63 L500.78,1069.41 L501.71,1069.19 L502.64,1068.98 L503.57,1068.78 L504.5,1068.57 L505.43,1068.36 L506.36,1068.16 L507.29,1067.95 L508.22,1067.75 L509.15,1067.54 L510.07,1067.33 L511,1067.13 L511.93,1066.92 L512.86,1066.82 L513.79,1066.73 L514.72,1066.63 L515.65,1066.53 L516.58,1066.44 L517.51,1066.34 L518.44,1066.24 L519.37,1066.15 L520.29,1066.05 L521.22,1065.95 L522.15,1065.86 L523.08,1065.76 L524.01,1065.66 L524.94,1065.57 L525.87,1065.47 L526.8,1065.37 L527.73,1065.27 L528.65,1065.18 L529.58,1065.08 L530.51,1064.98 L531.44,1064.89 L532.37,1064.79 L533.3,1064.69 L534.23,1064.59 L535.16,1064.5 L536.09,1064.4 L537.02,1064.3 L537.94,1064.2 L538.87,1064.1 L539.8,1064 L540.73,1063.9 L541.66,1063.8 L542.59,1063.7 L543.52,1063.61 L544.45,1063.51 L545.38,1063.41 L546.31,1063.31 L547.24,1063.21 L548.16,1063.11 L549.09,1063.01 L550.02,1062.91 L550.95,1062.84 L551.88,1062.76 L552.81,1062.69 L553.74,1062.62 L554.67,1062.54 L555.6,1062.47 L556.52,1062.39 L557.45,1062.32 L558.38,1062.24 L559.31,1062.17 L560.24,1062.1 L561.17,1062.02 L562.1,1061.95 L563.03,1061.87 L563.96,1061.8 L564.89,1061.72 L565.81,1061.65 L566.74,1061.58 L567.67,1061.53 L568.6,1061.48 L569.53,1061.43 L570.46,1061.38 L571.39,1061.33 L572.32,1061.29 L573.25,1061.24 L574.18,1061.19 L575.11,1061.14 L576.03,1061.09 L576.96,1061.04 L577.89,1061 L578.82,1060.95 L579.75,1060.9 L580.68,1060.85 L581.61,1060.8 L582.54,1060.75 L583.47,1060.7 L584.39,1060.66 L585.32,1060.61 L586.25,1060.56 L587.18,1060.51 L588.11,1060.46 L589.04,1060.42 L589.97,1060.39 L590.9,1060.35 L591.83,1060.31 L592.76,1060.27 L593.68,1060.23 L594.61,1060.2 L595.54,1060.16 L596.47,1060.12 L597.4,1060.08 L598.33,1060.04 L599.26,1060.01 L600.19,1059.97 L601.12,1059.93 L602.05,1059.89 L602.97,1059.85 L603.9,1059.82 L604.83,1059.78 L605.76,1059.74 L606.69,1059.7 L607.62,1059.66 L608.55,1059.63 L609.48,1059.59 L610.41,1059.55 L611.34,1059.51 L612.26,1059.47 L613.19,1059.44 L614.12,1059.4 L615.05,1059.36 L615.98,1059.32 L616.91,1059.28 L617.84,1059.25 L618.77,1059.21 L619.7,1059.17 L620.63,1059.13 L621.55,1059.09 L622.48,1059.06 L623.41,1059.02 L624.34,1058.98 L625.27,1058.94 L626.2,1058.9 L627.13,1058.87 L628.06,1058.84 L628.99,1058.8 L629.92,1058.77 L630.84,1058.73 L631.77,1058.7 L632.7,1058.67 L633.63,1058.63 L634.56,1058.6 L635.49,1058.57 L636.42,1058.53 L637.35,1058.5 L638.28,1058.47 L639.21,1058.43 L640.13,1058.4 L641.06,1058.36 L641.99,1058.33 L642.92,1058.3 L643.85,1058.26 L644.78,1058.23 L645.71,1058.2 L646.64,1058.16 L647.57,1058.13 L648.5,1058.09 L649.42,1058.06 L650.35,1058.03 L651.28,1057.99 L652.21,1057.96 L653.14,1057.93 L654.07,1057.89 L655,1057.86 L655.93,1057.82 L656.86,1057.79 L657.79,1057.77 L658.71,1057.74 L659.64,1057.72 L660.57,1057.69 L661.5,1057.67 L662.43,1057.64 L663.36,1057.62 L664.29,1057.59 L665.22,1057.57 L666.15,1057.55 L667.08,1057.52 L668,1057.5 L668.93,1057.47 L669.86,1057.45 L670.79,1057.42 L671.72,1057.4 L672.65,1057.37 L673.58,1057.35 L674.51,1057.33 L675.44,1057.3 L676.37,1057.28 L677.29,1057.25 L678.22,1057.23 L679.15,1057.2 L680.08,1057.18 L681.01,1057.15 L681.94,1057.13 L682.87,1057.1 L683.8,1057.08 L684.73,1057.06 L685.66,1057.03 L686.58,1057.01 L687.51,1056.98 L688.44,1056.96 L689.37,1056.93 L690.3,1056.91 L691.23,1056.88 L692.16,1056.86 L693.09,1056.84 L694.02,1056.81 L694.95,1056.79 L695.87,1056.76 L696.8,1056.74 L697.73,1056.71 L698.66,1056.69 L699.59,1056.66 L700.52,1056.63 L701.45,1056.6 L702.38,1056.57 L703.31,1056.54 L704.24,1056.51 L705.16,1056.47 L706.09,1056.44 L707.02,1056.41 L707.95,1056.38 L708.88,1056.35 L709.81,1056.32 L710.74,1056.29 L711.67,1056.26 L712.6,1056.23 L713.53,1056.2 L714.45,1056.16 L715.38,1056.13 L716.31,1056.1 L717.24,1056.07 L718.17,1056.04 L719.1,1056.01 L720.03,1055.98 L720.96,1055.96 L721.89,1055.93 L722.82,1055.9 L723.74,1055.88 L724.67,1055.85 L725.6,1055.83 L726.53,1055.8 L727.46,1055.77 L728.39,1055.75 L729.32,1055.72 L730.25,1055.7 L731.18,1055.67 L732.11,1055.64 L733.03,1055.62 L733.96,1055.59 L734.89,1055.57 L735.82,1055.54 L736.75,1055.51 L737.68,1055.49 L738.61,1055.46 L739.54,1055.44 L740.47,1055.41 L741.4,1055.39 L742.32,1055.36 L743.25,1055.33 L744.18,1055.31 L745.11,1055.28 L746.04,1055.26 L746.97,1055.23 L747.9,1055.2 L748.83,1055.18 L749.76,1055.15 L750.69,1055.13 L751.61,1055.1 L752.54,1055.07 L753.47,1055.05 L754.4,1055.02 L755.33,1055 L756.26,1054.97 L757.19,1054.94 L758.12,1054.92 L759.05,1054.89 L759.98,1054.87 L760.9,1054.84 L761.83,1054.81 L762.76,1054.79 L763.69,1054.76 L764.62,1054.74 L765.55,1054.71 L766.48,1054.68 L767.41,1054.66 L768.34,1054.63 L769.27,1054.61 L770.19,1054.58 L771.12,1054.55 L772.05,1054.53 L772.98,1054.5 L773.91,1054.48 L774.84,1054.45 L775.77,1054.44 L776.7,1054.43 L777.63,1054.42 L778.56,1054.41 L779.48,1054.39 L780.41,1054.38 L781.34,1054.37 L782.27,1054.36 L783.2,1054.35 L784.13,1054.34 L785.06,1054.33 L785.99,1054.32 L786.92,1054.3 L787.85,1054.29 L788.77,1054.28 L789.7,1054.27 L790.63,1054.26 L791.56,1054.25 L792.49,1054.24 L793.42,1054.23 L794.35,1054.22 L795.28,1054.2 L796.21,1054.19 L797.14,1054.18 L798.06,1054.17 L798.99,1054.16 L799.92,1054.15 L800.85,1054.14 L801.78,1054.13 L802.71,1054.12 L803.64,1054.1 L804.57,1054.09 L805.5,1054.08 L806.43,1054.07 L807.35,1054.06 L808.28,1054.05 L809.21,1054.04 L810.14,1054.03 L811.07,1054.02 L812,1054 L812.93,1053.99 L813.86,1053.97 L814.79,1053.95 L815.72,1053.93 L816.64,1053.91 L817.57,1053.89 L818.5,1053.87 L819.43,1053.85 L820.36,1053.83 L821.29,1053.81 L822.22,1053.79 L823.15,1053.78 L824.08,1053.76 L825.01,1053.74 L825.93,1053.72 L826.86,1053.7 L827.79,1053.68 L828.72,1053.66 L829.65,1053.64 L830.58,1053.62 L831.51,1053.6 L832.44,1053.58 L833.37,1053.57 L834.3,1053.55 L835.22,1053.53 L836.15,1053.51 L837.08,1053.49 L838.01,1053.47 L838.94,1053.45 L839.87,1053.43 L840.8,1053.41 L841.73,1053.39 L842.66,1053.37 L843.59,1053.36 L844.51,1053.34 L845.44,1053.33 L846.37,1053.32 L847.3,1053.32 L848.23,1053.31 L849.16,1053.3 L850.09,1053.3 L851.02,1053.29 L851.95,1053.28 L852.88,1053.27 L853.8,1053.27 L854.73,1053.26 L855.66,1053.25 L856.59,1053.25 L857.52,1053.24 L858.45,1053.23 L859.38,1053.23 L860.31,1053.22 L861.24,1053.21 L862.17,1053.21 L863.09,1053.2 L864.02,1053.19 L864.95,1053.19 L865.88,1053.18 L866.81,1053.17 L867.74,1053.16 L868.67,1053.16 L869.6,1053.15 L870.53,1053.14 L871.46,1053.14 L872.38,1053.13 L873.31,1053.12 L874.24,1053.12 L875.17,1053.11 L876.1,1053.1 L877.03,1053.1 L877.96,1053.09 L878.89,1053.08 L879.82,1053.08 L880.75,1053.07 L881.67,1053.06 L882.6,1053.06 L883.53,1053.05 L884.46,1053.04 L885.39,1053.03 L886.32,1053.03 L887.25,1053.02 L888.18,1053.01 L889.11,1053.01 L890.04,1053 L890.96,1052.99 L891.89,1052.99 L892.82,1052.98 L893.75,1052.97 L894.68,1052.97 L895.61,1052.96 L896.54,1052.95 L897.47,1052.95 L898.4,1052.94 L899.33,1052.93 L900.25,1052.93 L901.18,1052.92 L902.11,1052.91 L903.04,1052.9 L903.97,1052.9 L904.9,1052.89" fill="none" stroke="#d62728" stroke-width="1.7" stroke-linejoin="round" stroke-dasharray="6.41 2.77" clip-path="url(#c3)"/>
<line x1="487.4" y1="818.05" x2="487.4" y2="1088" stroke="#ffa500" stroke-width="1.7" stroke-dasharray="1.73 2.86"/>
<rect x="69.5" y="818.05" width="836" height="269.95" fill="none" stroke="#262626" stroke-width="0.9"/>
<line x1="69.5" y1="1088" x2="69.5" y2="1092.2" stroke="#000" stroke-width="0.9"/>
<line x1="161.7" y1="1088" x2="161.7" y2="1092.2" stroke="#000" stroke-width="0.9"/>
<line x1="254.6" y1="1088" x2="254.6" y2="1092.2" stroke="#000" stroke-width="0.9"/>
<line x1="347.5" y1="1088" x2="347.5" y2="1092.2" stroke="#000" stroke-width="0.9"/>
<line x1="440.4" y1="1088" x2="440.4" y2="1092.2" stroke="#000" stroke-width="0.9"/>
<line x1="533.3" y1="1088" x2="533.3" y2="1092.2" stroke="#000" stroke-width="0.9"/>
<line x1="626.2" y1="1088" x2="626.2" y2="1092.2" stroke="#000" stroke-width="0.9"/>
<line x1="719.1" y1="1088" x2="719.1" y2="1092.2" stroke="#000" stroke-width="0.9"/>
<line x1="812" y1="1088" x2="812" y2="1092.2" stroke="#000" stroke-width="0.9"/>
<line x1="65.4" y1="1052" x2="69.5" y2="1052" stroke="#000" stroke-width="0.9"/>
<line x1="65.4" y1="1007.46" x2="69.5" y2="1007.46" stroke="#000" stroke-width="0.9"/>
<line x1="65.4" y1="962.92" x2="69.5" y2="962.92" stroke="#000" stroke-width="0.9"/>
<line x1="65.4" y1="918.38" x2="69.5" y2="918.38" stroke="#000" stroke-width="0.9"/>
<line x1="65.4" y1="873.84" x2="69.5" y2="873.84" stroke="#000" stroke-width="0.9"/>
<line x1="65.4" y1="829.3" x2="69.5" y2="829.3" stroke="#000" stroke-width="0.9"/>
<rect x="768.2" y="823.9" width="131.7" height="58.9" rx="2.3" ry="2.3" fill="#fff" fill-opacity="0.8" stroke="#cccccc" stroke-width="0.9"/>
<line x1="771.8" y1="833.7" x2="796.2" y2="833.7" stroke="#000000" stroke-width="1.7"/>
<line x1="771.8" y1="850.9" x2="796.2" y2="850.9" stroke="#1f77b4" stroke-width="1.7"/>
<line x1="771.8" y1="869.7" x2="796.2" y2="869.7" stroke="#d62728" stroke-width="1.7" stroke-dasharray="6.41 2.77"/>
<text transform="translate(472.09,1155.4) scale(0.8315,1)" font-family="Liberation Serif, serif" font-size="26.23" fill="#000" stroke="#fff" stroke-width="0.18">(</text>
<text transform="translate(479.83,1155.27) scale(1.0643,1)" font-family="Liberation Serif, serif" font-size="22.9" fill="#000" stroke="#fff" stroke-width="0.18">c</text>
<text transform="translate(491.18,1155.4) scale(0.8404,1)" font-family="Liberation Serif, serif" font-size="26.23" fill="#000" stroke="#fff" stroke-width="0.18">)</text>
<g style="will-change:transform">
<text transform="translate(66.1,296.8) scale(1.0218,1)" font-family="Liberation Sans, sans-serif" font-size="11.9" fill="#000" stroke="#fff" stroke-width="0.12">0</text>
<text transform="translate(196.5,296.8) scale(1.0574,1)" font-family="Liberation Sans, sans-serif" font-size="11.9" fill="#000" stroke="#fff" stroke-width="0.12">50</text>
<text transform="translate(327.18,296.8) scale(1.0765,1)" font-family="Liberation Sans, sans-serif" font-size="11.9" fill="#000" stroke="#fff" stroke-width="0.12">100</text>
<text transform="translate(461.6,296.8) scale(1.0765,1)" font-family="Liberation Sans, sans-serif" font-size="11.9" fill="#000" stroke="#fff" stroke-width="0.12">150</text>
<text transform="translate(595.91,296.8) scale(1.0824,1)" font-family="Liberation Sans, sans-serif" font-size="11.9" fill="#000" stroke="#fff" stroke-width="0.12">200</text>
<text transform="translate(730.34,296.8) scale(1.0824,1)" font-family="Liberation Sans, sans-serif" font-size="11.9" fill="#000" stroke="#fff" stroke-width="0.12">250</text>
<text transform="translate(864.96,296.8) scale(1.0724,1)" font-family="Liberation Sans, sans-serif" font-size="11.9" fill="#000" stroke="#fff" stroke-width="0.12">300</text>
<text transform="translate(34.75,115.4) scale(0.9518,1)" font-family="Liberation Sans, sans-serif" font-size="11.9" fill="#1f77b4" stroke="#fff" stroke-width="0.12">10</text>
<text transform="translate(48.05,111.2) scale(1.3156,1)" font-family="Liberation Sans, sans-serif" font-size="8.33" fill="#1f77b4" stroke="#fff" stroke-width="0.12">−2</text>
<text transform="translate(34.75,236.7) scale(0.9518,1)" font-family="Liberation Sans, sans-serif" font-size="11.9" fill="#1f77b4" stroke="#fff" stroke-width="0.12">10</text>
<text transform="translate(48.06,232.5) scale(1.3062,1)" font-family="Liberation Sans, sans-serif" font-size="8.33" fill="#1f77b4" stroke="#fff" stroke-width="0.12">−3</text>
<text transform="translate(914.33,277.5) scale(1.0818,1)" font-family="Liberation Sans, sans-serif" font-size="11.9" fill="#d62728" stroke="#fff" stroke-width="0.12">0.025</text>
<text transform="translate(914.33,246.8) scale(1.0887,1)" font-family="Liberation Sans, sans-serif" font-size="11.9" fill="#d62728" stroke="#fff" stroke-width="0.12">0.050</text>
<text transform="translate(914.33,216.1) scale(1.0818,1)" font-family="Liberation Sans, sans-serif" font-size="11.9" fill="#d62728" stroke="#fff" stroke-width="0.12">0.075</text>
<text transform="translate(914.33,185.4) scale(1.0887,1)" font-family="Liberation Sans, sans-serif" font-size="11.9" fill="#d62728" stroke="#fff" stroke-width="0.12">0.100</text>
<text transform="translate(914.33,154.7) scale(1.0818,1)" font-family="Liberation Sans, sans-serif" font-size="11.9" fill="#d62728" stroke="#fff" stroke-width="0.12">0.125</text>
<text transform="translate(914.33,124) scale(1.0887,1)" font-family="Liberation Sans, sans-serif" font-size="11.9" fill="#d62728" stroke="#fff" stroke-width="0.12">0.150</text>
<text transform="translate(914.33,93.3) scale(1.0818,1)" font-family="Liberation Sans, sans-serif" font-size="11.9" fill="#d62728" stroke="#fff" stroke-width="0.12">0.175</text>
<text transform="translate(914.33,62.6) scale(1.0887,1)" font-family="Liberation Sans, sans-serif" font-size="11.9" fill="#d62728" stroke="#fff" stroke-width="0.12">0.200</text>
<text transform="translate(914.33,31.9) scale(1.0818,1)" font-family="Liberation Sans, sans-serif" font-size="11.9" fill="#d62728" stroke="#fff" stroke-width="0.12">0.225</text>
<text transform="translate(25.8,181.56) rotate(-90) scale(1.0570,1)" font-family="Liberation Sans, sans-serif" font-size="11.9" fill="#1f77b4" stroke="#fff" stroke-width="0.12">Loss value</text>
<g transform="translate(961.2,153.1) rotate(-90) translate(-38.65,0)">
<text transform="translate(0.56,0) scale(0.9980,1)" font-family="Liberation Sans, sans-serif" font-size="11.9" fill="#d62728" font-style="italic" stroke="#fff" stroke-width="0.12">L</text>
<text transform="translate(6.99,1.6) scale(0.9718,1)" font-family="Liberation Sans, sans-serif" font-size="8.33" fill="#d62728" stroke="#fff" stroke-width="0.12">1</text>
<text transform="translate(16.5,0) scale(1.1202,1)" font-family="Liberation Sans, sans-serif" font-size="11.9" fill="#d62728" stroke="#fff" stroke-width="0.12">term value</text>
</g>
<text transform="translate(460.47,16.2) scale(0.9831,1)" font-family="Liberation Sans, sans-serif" font-size="17.91" fill="#000" stroke="#fff" stroke-width="0.12">MNIST</text>
<text transform="translate(463.48,42.7) scale(1.0570,1)" font-family="Liberation Sans, sans-serif" font-size="11.9" fill="#000" stroke="#fff" stroke-width="0.12">Loss value</text>
<text transform="translate(463.96,61.1) scale(0.9980,1)" font-family="Liberation Sans, sans-serif" font-size="11.9" fill="#000" font-style="italic" stroke="#fff" stroke-width="0.12">L</text>
<text transform="translate(470.39,62.7) scale(0.9718,1)" font-family="Liberation Sans, sans-serif" font-size="8.33" fill="#000" stroke="#fff" stroke-width="0.12">1</text>
<text transform="translate(479.9,61.1) scale(1.1202,1)" font-family="Liberation Sans, sans-serif" font-size="11.9" fill="#000" stroke="#fff" stroke-width="0.12">term value</text>
<text transform="translate(66.1,694) scale(1.0218,1)" font-family="Liberation Sans, sans-serif" font-size="11.9" fill="#000" stroke="#fff" stroke-width="0.12">0</text>
<text transform="translate(201.23,694) scale(1.0725,1)" font-family="Liberation Sans, sans-serif" font-size="11.9" fill="#000" stroke="#fff" stroke-width="0.12">20</text>
<text transform="translate(340.69,694) scale(1.0674,1)" font-family="Liberation Sans, sans-serif" font-size="11.9" fill="#000" stroke="#fff" stroke-width="0.12">40</text>
<text transform="translate(480,694) scale(1.0748,1)" font-family="Liberation Sans, sans-serif" font-size="11.9" fill="#000" stroke="#fff" stroke-width="0.12">60</text>
<text transform="translate(619.47,694) scale(1.0694,1)" font-family="Liberation Sans, sans-serif" font-size="11.9" fill="#000" stroke="#fff" stroke-width="0.12">80</text>
<text transform="translate(755.28,694) scale(1.0765,1)" font-family="Liberation Sans, sans-serif" font-size="11.9" fill="#000" stroke="#fff" stroke-width="0.12">100</text>
<text transform="translate(894.83,694) scale(1.0765,1)" font-family="Liberation Sans, sans-serif" font-size="11.9" fill="#000" stroke="#fff" stroke-width="0.12">120</text>
<text transform="translate(34.75,486.5) scale(0.9518,1)" font-family="Liberation Sans, sans-serif" font-size="11.9" fill="#1f77b4" stroke="#fff" stroke-width="0.12">10</text>
<text transform="translate(48.05,482.3) scale(1.3156,1)" font-family="Liberation Sans, sans-serif" font-size="8.33" fill="#1f77b4" stroke="#fff" stroke-width="0.12">−2</text>
<text transform="translate(34.75,578.45) scale(0.9518,1)" font-family="Liberation Sans, sans-serif" font-size="11.9" fill="#1f77b4" stroke="#fff" stroke-width="0.12">10</text>
<text transform="translate(48.06,574.25) scale(1.3062,1)" font-family="Liberation Sans, sans-serif" font-size="8.33" fill="#1f77b4" stroke="#fff" stroke-width="0.12">−3</text>
<text transform="translate(34.75,670.4) scale(0.9518,1)" font-family="Liberation Sans, sans-serif" font-size="11.9" fill="#1f77b4" stroke="#fff" stroke-width="0.12">10</text>
<text transform="translate(48.06,666.2) scale(1.2878,1)" font-family="Liberation Sans, sans-serif" font-size="8.33" fill="#1f77b4" stroke="#fff" stroke-width="0.12">−4</text>
<text transform="translate(913.84,677.7) scale(1.0748,1)" font-family="Liberation Sans, sans-serif" font-size="11.9" fill="#d62728" stroke="#fff" stroke-width="0.12">0.0</text>
<text transform="translate(913.8,648.03) scale(1.0647,1)" font-family="Liberation Sans, sans-serif" font-size="11.9" fill="#d62728" stroke="#fff" stroke-width="0.12">2.5</text>
<text transform="translate(913.98,618.36) scale(1.0656,1)" font-family="Liberation Sans, sans-serif" font-size="11.9" fill="#d62728" stroke="#fff" stroke-width="0.12">5.0</text>
<text transform="translate(913.92,588.69) scale(1.0572,1)" font-family="Liberation Sans, sans-serif" font-size="11.9" fill="#d62728" stroke="#fff" stroke-width="0.12">7.5</text>
<text transform="translate(913.9,559.02) scale(1.0809,1)" font-family="Liberation Sans, sans-serif" font-size="11.9" fill="#d62728" stroke="#fff" stroke-width="0.12">10.0</text>
<text transform="translate(913.91,529.35) scale(1.0718,1)" font-family="Liberation Sans, sans-serif" font-size="11.9" fill="#d62728" stroke="#fff" stroke-width="0.12">12.5</text>
<text transform="translate(913.9,499.68) scale(1.0809,1)" font-family="Liberation Sans, sans-serif" font-size="11.9" fill="#d62728" stroke="#fff" stroke-width="0.12">15.0</text>
<text transform="translate(913.91,470.01) scale(1.0718,1)" font-family="Liberation Sans, sans-serif" font-size="11.9" fill="#d62728" stroke="#fff" stroke-width="0.12">17.5</text>
<text transform="translate(913.79,440.34) scale(1.0858,1)" font-family="Liberation Sans, sans-serif" font-size="11.9" fill="#d62728" stroke="#fff" stroke-width="0.12">20.0</text>
<text transform="translate(25.8,578.56) rotate(-90) scale(1.0570,1)" font-family="Liberation Sans, sans-serif" font-size="11.9" fill="#1f77b4" stroke="#fff" stroke-width="0.12">Loss value</text>
<g transform="translate(953.9,550) rotate(-90) translate(-38.65,0)">
<text transform="translate(0.56,0) scale(0.9980,1)" font-family="Liberation Sans, sans-serif" font-size="11.9" fill="#d62728" font-style="italic" stroke="#fff" stroke-width="0.12">L</text>
<text transform="translate(6.99,1.6) scale(0.9718,1)" font-family="Liberation Sans, sans-serif" font-size="8.33" fill="#d62728" stroke="#fff" stroke-width="0.12">1</text>
<text transform="translate(16.5,0) scale(1.1202,1)" font-family="Liberation Sans, sans-serif" font-size="11.9" fill="#d62728" stroke="#fff" stroke-width="0.12">term value</text>
</g>
<text transform="translate(451.87,412.8) scale(0.9759,1)" font-family="Liberation Sans, sans-serif" font-size="17.91" fill="#000" stroke="#fff" stroke-width="0.12">CIFAR10</text>
<text transform="translate(815.48,439.7) scale(1.0570,1)" font-family="Liberation Sans, sans-serif" font-size="11.9" fill="#000" stroke="#fff" stroke-width="0.12">Loss value</text>
<text transform="translate(815.96,458.1) scale(0.9980,1)" font-family="Liberation Sans, sans-serif" font-size="11.9" fill="#000" font-style="italic" stroke="#fff" stroke-width="0.12">L</text>
<text transform="translate(822.39,459.7) scale(0.9718,1)" font-family="Liberation Sans, sans-serif" font-size="8.33" fill="#000" stroke="#fff" stroke-width="0.12">1</text>
<text transform="translate(831.9,458.1) scale(1.1202,1)" font-family="Liberation Sans, sans-serif" font-size="11.9" fill="#000" stroke="#fff" stroke-width="0.12">term value</text>
<text transform="translate(66.1,1105.6) scale(1.0218,1)" font-family="Liberation Sans, sans-serif" font-size="11.9" fill="#000" stroke="#fff" stroke-width="0.12">0</text>
<text transform="translate(147.36,1105.6) scale(1.0852,1)" font-family="Liberation Sans, sans-serif" font-size="11.9" fill="#000" stroke="#fff" stroke-width="0.12">1000</text>
<text transform="translate(240.15,1105.6) scale(1.0895,1)" font-family="Liberation Sans, sans-serif" font-size="11.9" fill="#000" stroke="#fff" stroke-width="0.12">2000</text>
<text transform="translate(333.25,1105.6) scale(1.0820,1)" font-family="Liberation Sans, sans-serif" font-size="11.9" fill="#000" stroke="#fff" stroke-width="0.12">3000</text>
<text transform="translate(426.02,1105.6) scale(1.0868,1)" font-family="Liberation Sans, sans-serif" font-size="11.9" fill="#000" stroke="#fff" stroke-width="0.12">4000</text>
<text transform="translate(519.04,1105.6) scale(1.0822,1)" font-family="Liberation Sans, sans-serif" font-size="11.9" fill="#000" stroke="#fff" stroke-width="0.12">5000</text>
<text transform="translate(611.72,1105.6) scale(1.0906,1)" font-family="Liberation Sans, sans-serif" font-size="11.9" fill="#000" stroke="#fff" stroke-width="0.12">6000</text>
<text transform="translate(704.77,1105.6) scale(1.0850,1)" font-family="Liberation Sans, sans-serif" font-size="11.9" fill="#000" stroke="#fff" stroke-width="0.12">7000</text>
<text transform="translate(797.59,1105.6) scale(1.0879,1)" font-family="Liberation Sans, sans-serif" font-size="11.9" fill="#000" stroke="#fff" stroke-width="0.12">8000</text>
<text transform="translate(54.43,1056.3) scale(0.9874,1)" font-family="Liberation Sans, sans-serif" font-size="11.9" fill="#000" stroke="#fff" stroke-width="0.12">2</text>
<text transform="translate(54.46,1011.76) scale(1.0188,1)" font-family="Liberation Sans, sans-serif" font-size="11.9" fill="#000" stroke="#fff" stroke-width="0.12">4</text>
<text transform="translate(54.36,967.22) scale(1.0497,1)" font-family="Liberation Sans, sans-serif" font-size="11.9" fill="#000" stroke="#fff" stroke-width="0.12">6</text>
<text transform="translate(54.44,922.68) scale(1.0279,1)" font-family="Liberation Sans, sans-serif" font-size="11.9" fill="#000" stroke="#fff" stroke-width="0.12">8</text>
<text transform="translate(47.18,878.14) scale(1.0630,1)" font-family="Liberation Sans, sans-serif" font-size="11.9" fill="#000" stroke="#fff" stroke-width="0.12">10</text>
<text transform="translate(47.2,833.6) scale(1.0447,1)" font-family="Liberation Sans, sans-serif" font-size="11.9" fill="#000" stroke="#fff" stroke-width="0.12">12</text>
<text transform="translate(445.11,810.75) scale(1.0871,1)" font-family="Liberation Sans, sans-serif" font-size="17.91" fill="#000" stroke="#fff" stroke-width="0.12">ImageNet</text>
<text transform="translate(222.71,872.5) scale(1.0678,1)" font-family="Liberation Sans, sans-serif" font-size="17.91" fill="#000" stroke="#fff" stroke-width="0.12">Pruning Step</text>
<text transform="translate(629.59,872.6) scale(1.0821,1)" font-family="Liberation Sans, sans-serif" font-size="17.91" fill="#000" stroke="#fff" stroke-width="0.12">Retraining Step</text>
<text transform="translate(438.86,1125) scale(1.1311,1)" font-family="Liberation Sans, sans-serif" font-size="17.91" fill="#000" stroke="#fff" stroke-width="0.12">Iteration(k)</text>
<text transform="translate(805.11,837.5) scale(1.1005,1)" font-family="Liberation Sans, sans-serif" font-size="11.9" fill="#000" stroke="#fff" stroke-width="0.12">Objective value</text>
<text transform="translate(805.18,855) scale(1.0570,1)" font-family="Liberation Sans, sans-serif" font-size="11.9" fill="#000" stroke="#fff" stroke-width="0.12">Loss value</text>
<text transform="translate(805.66,873.5) scale(0.9980,1)" font-family="Liberation Sans, sans-serif" font-size="11.9" fill="#000" font-style="italic" stroke="#fff" stroke-width="0.12">L</text>
<text transform="translate(812.09,875.1) scale(0.9718,1)" font-family="Liberation Sans, sans-serif" font-size="8.33" fill="#000" stroke="#fff" stroke-width="0.12">1</text>
<text transform="translate(821.6,873.5) scale(1.1202,1)" font-family="Liberation Sans, sans-serif" font-size="11.9" fill="#000" stroke="#fff" stroke-width="0.12">term value</text>
</g>
</svg>
</body></html>
